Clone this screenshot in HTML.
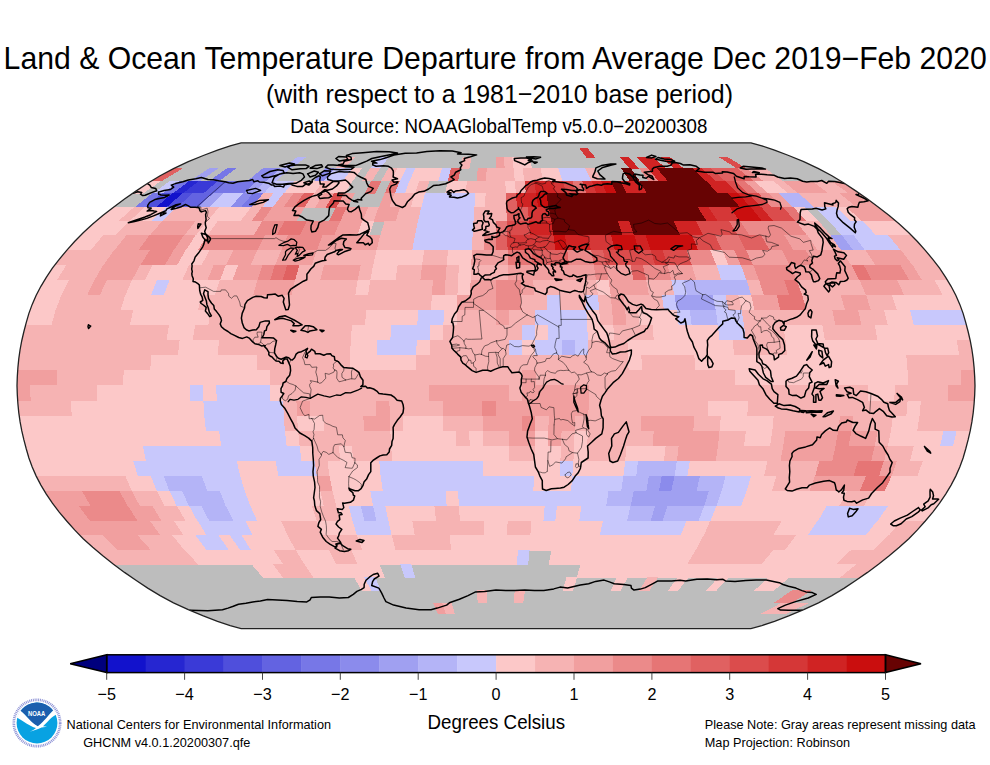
<!DOCTYPE html>
<html><head><meta charset="utf-8"><title>Land &amp; Ocean Temperature Departure from Average Dec 2019-Feb 2020</title>
<style>
html,body{margin:0;padding:0;background:#fff;overflow:hidden;}
html{width:990px;height:765px;}
body{width:990px;height:765px;position:relative;overflow:hidden;font-family:"Liberation Sans",sans-serif;color:#000;}
.t{position:absolute;white-space:nowrap;line-height:1;}
.tk{position:absolute;top:686px;width:60px;margin-left:-30px;text-align:center;font-size:16.2px;line-height:1;white-space:nowrap;transform-origin:50% 13.71px;transform:scaleY(1.043);}
</style></head><body>
<svg width="990" height="765" viewBox="0 0 990 765" style="position:absolute;left:0;top:0">
<defs><clipPath id="ol"><path d="M750.9 142.8 L761.8 145.8 L774.5 150.1 L788.7 155.5 L803.7 161.7 L818.5 168.6 L831.9 175.8 L844.3 183.3 L856.1 191.1 L867.5 199.0 L878.5 207.2 L889.2 215.6 L899.3 224.1 L908.8 232.7 L917.4 241.5 L925.3 250.4 L932.8 259.3 L939.6 268.2 L945.7 277.3 L951.1 286.3 L955.8 295.3 L959.8 304.4 L963.1 313.4 L965.7 322.4 L968.1 331.5 L970.2 340.5 L971.9 349.5 L973.2 358.6 L974.1 367.6 L974.7 376.7 L975.0 385.7 L974.7 394.7 L974.1 403.8 L973.2 412.8 L971.9 421.9 L970.2 430.9 L968.1 439.9 L965.7 449.0 L963.1 458.0 L959.8 467.0 L955.8 476.1 L951.1 485.1 L945.7 494.1 L939.6 503.2 L932.8 512.1 L925.3 521.0 L917.4 529.9 L908.8 538.7 L899.3 547.3 L889.2 555.8 L878.5 564.2 L867.5 572.4 L856.1 580.3 L844.3 588.1 L831.9 595.6 L818.5 602.8 L803.7 609.7 L788.7 615.9 L774.5 621.3 L761.8 625.6 L750.9 628.6 L241.1 628.6 L230.2 625.6 L217.5 621.3 L203.3 615.9 L188.3 609.7 L173.5 602.8 L160.1 595.6 L147.7 588.1 L135.9 580.3 L124.5 572.4 L113.5 564.2 L102.8 555.8 L92.7 547.3 L83.2 538.7 L74.6 529.9 L66.7 521.0 L59.2 512.1 L52.4 503.2 L46.3 494.1 L40.9 485.1 L36.2 476.1 L32.2 467.0 L28.9 458.0 L26.3 449.0 L23.9 439.9 L21.8 430.9 L20.1 421.9 L18.8 412.8 L17.9 403.8 L17.3 394.7 L17.0 385.7 L17.3 376.7 L17.9 367.6 L18.8 358.6 L20.1 349.5 L21.8 340.5 L23.9 331.5 L26.3 322.4 L28.9 313.4 L32.2 304.4 L36.2 295.3 L40.9 286.3 L46.3 277.3 L52.4 268.2 L59.2 259.3 L66.7 250.4 L74.6 241.5 L83.2 232.7 L92.7 224.1 L102.8 215.6 L113.5 207.2 L124.5 199.0 L135.9 191.1 L147.7 183.3 L160.1 175.8 L173.5 168.6 L188.3 161.7 L203.3 155.5 L217.5 150.1 L230.2 145.8 L241.1 142.8Z"/></clipPath></defs>
<g clip-path="url(#ol)" shape-rendering="crispEdges"><path d="M750.9 142.8 L761.8 145.8 L774.5 150.1 L788.7 155.5 L803.7 161.7 L818.5 168.6 L831.9 175.8 L844.3 183.3 L856.1 191.1 L867.5 199.0 L878.5 207.2 L889.2 215.6 L899.3 224.1 L908.8 232.7 L917.4 241.5 L925.3 250.4 L932.8 259.3 L939.6 268.2 L945.7 277.3 L951.1 286.3 L955.8 295.3 L959.8 304.4 L963.1 313.4 L965.7 322.4 L968.1 331.5 L970.2 340.5 L971.9 349.5 L973.2 358.6 L974.1 367.6 L974.7 376.7 L975.0 385.7 L974.7 394.7 L974.1 403.8 L973.2 412.8 L971.9 421.9 L970.2 430.9 L968.1 439.9 L965.7 449.0 L963.1 458.0 L959.8 467.0 L955.8 476.1 L951.1 485.1 L945.7 494.1 L939.6 503.2 L932.8 512.1 L925.3 521.0 L917.4 529.9 L908.8 538.7 L899.3 547.3 L889.2 555.8 L878.5 564.2 L867.5 572.4 L856.1 580.3 L844.3 588.1 L831.9 595.6 L818.5 602.8 L803.7 609.7 L788.7 615.9 L774.5 621.3 L761.8 625.6 L750.9 628.6 L241.1 628.6 L230.2 625.6 L217.5 621.3 L203.3 615.9 L188.3 609.7 L173.5 602.8 L160.1 595.6 L147.7 588.1 L135.9 580.3 L124.5 572.4 L113.5 564.2 L102.8 555.8 L92.7 547.3 L83.2 538.7 L74.6 529.9 L66.7 521.0 L59.2 512.1 L52.4 503.2 L46.3 494.1 L40.9 485.1 L36.2 476.1 L32.2 467.0 L28.9 458.0 L26.3 449.0 L23.9 439.9 L21.8 430.9 L20.1 421.9 L18.8 412.8 L17.9 403.8 L17.3 394.7 L17.0 385.7 L17.3 376.7 L17.9 367.6 L18.8 358.6 L20.1 349.5 L21.8 340.5 L23.9 331.5 L26.3 322.4 L28.9 313.4 L32.2 304.4 L36.2 295.3 L40.9 286.3 L46.3 277.3 L52.4 268.2 L59.2 259.3 L66.7 250.4 L74.6 241.5 L83.2 232.7 L92.7 224.1 L102.8 215.6 L113.5 207.2 L124.5 199.0 L135.9 191.1 L147.7 183.3 L160.1 175.8 L173.5 168.6 L188.3 161.7 L203.3 155.5 L217.5 150.1 L230.2 145.8 L241.1 142.8Z" fill="#bdbdbd"/>
<path d="M579.4 148.3L587.7 148.3L595.5 157.8L586.6 157.8Z" fill="#d53737"/>
<path d="M297.3 157.2L306.2 157.2L290.3 168.9L280.7 168.9Z" fill="#b4b4f7"/>
<path d="M346.9 157.2L355.8 157.2L344.0 168.9L334.5 168.9Z" fill="#f6b3b3"/>
<path d="M380.0 157.2L388.8 157.2L379.9 168.9L370.3 168.9Z" fill="#c8c8fc"/>
<path d="M462.6 157.2L471.5 157.2L469.4 168.9L459.9 168.9Z" fill="#f6b3b3"/>
<path d="M495.7 157.2L504.6 157.2L505.3 168.9L495.7 168.9Z" fill="#f19f9f"/>
<path d="M504.0 157.2L512.8 157.2L514.2 168.9L504.7 168.9Z" fill="#f6b3b3"/>
<path d="M512.2 157.2L529.4 157.2L532.1 168.9L513.6 168.9Z" fill="#fcc8c8"/>
<path d="M619.7 157.2L628.6 157.2L639.6 168.9L630.1 168.9Z" fill="#d02323"/>
<path d="M636.2 157.2L653.4 157.2L666.5 168.9L648.0 168.9Z" fill="#d02323"/>
<path d="M661.0 157.2L669.9 157.2L684.4 168.9L674.8 168.9Z" fill="#d02323"/>
<path d="M718.9 157.2L727.8 157.2L747.1 168.9L737.5 168.9Z" fill="#db4c4c"/>
<path d="M173.2 168.3L182.8 168.3L161.7 181.1L151.5 181.1Z" fill="#e06161"/>
<path d="M209.1 168.3L218.6 168.3L199.9 181.1L189.7 181.1Z" fill="#a0a0f1"/>
<path d="M227.0 168.3L236.5 168.3L219.0 181.1L208.9 181.1Z" fill="#7777e7"/>
<path d="M262.8 168.3L281.3 168.3L266.8 181.1L247.1 181.1Z" fill="#8b8bec"/>
<path d="M280.7 168.3L290.3 168.3L276.4 181.1L266.2 181.1Z" fill="#b4b4f7"/>
<path d="M325.5 168.3L335.1 168.3L324.2 181.1L314.0 181.1Z" fill="#8b8bec"/>
<path d="M334.5 168.3L353.0 168.3L343.3 181.1L323.6 181.1Z" fill="#c8c8fc"/>
<path d="M352.4 168.3L361.9 168.3L352.9 181.1L342.7 181.1Z" fill="#fcc8c8"/>
<path d="M370.3 168.3L379.9 168.3L372.0 181.1L361.8 181.1Z" fill="#f6b3b3"/>
<path d="M388.2 168.3L397.8 168.3L391.1 181.1L381.0 181.1Z" fill="#f6b3b3"/>
<path d="M397.2 168.3L406.7 168.3L400.7 181.1L390.5 181.1Z" fill="#fcc8c8"/>
<path d="M406.1 168.3L415.7 168.3L410.2 181.1L400.1 181.1Z" fill="#c8c8fc"/>
<path d="M415.1 168.3L442.6 168.3L438.9 181.1L409.6 181.1Z" fill="#fcc8c8"/>
<path d="M442.0 168.3L451.5 168.3L448.5 181.1L438.3 181.1Z" fill="#c8c8fc"/>
<path d="M450.9 168.3L460.5 168.3L458.1 181.1L447.9 181.1Z" fill="#e06161"/>
<path d="M477.8 168.3L487.3 168.3L486.7 181.1L476.6 181.1Z" fill="#f19f9f"/>
<path d="M486.7 168.3L514.2 168.3L515.4 181.1L486.1 181.1Z" fill="#f6b3b3"/>
<path d="M513.6 168.3L523.2 168.3L525.0 181.1L514.8 181.1Z" fill="#fcc8c8"/>
<path d="M522.6 168.3L541.1 168.3L544.1 181.1L524.4 181.1Z" fill="#f6b3b3"/>
<path d="M540.5 168.3L559.0 168.3L563.2 181.1L543.5 181.1Z" fill="#fcc8c8"/>
<path d="M558.4 168.3L585.9 168.3L591.9 181.1L562.6 181.1Z" fill="#c8c8fc"/>
<path d="M585.3 168.3L594.8 168.3L601.5 181.1L591.3 181.1Z" fill="#f6b3b3"/>
<path d="M621.1 168.3L630.7 168.3L639.7 181.1L629.6 181.1Z" fill="#670303"/>
<path d="M639.0 168.3L648.6 168.3L658.8 181.1L648.7 181.1Z" fill="#eb8a8a"/>
<path d="M648.0 168.3L657.5 168.3L668.4 181.1L658.2 181.1Z" fill="#d02323"/>
<path d="M656.9 168.3L693.4 168.3L706.7 181.1L667.8 181.1Z" fill="#670303"/>
<path d="M692.8 168.3L702.3 168.3L716.2 181.1L706.1 181.1Z" fill="#d02323"/>
<path d="M701.7 168.3L711.3 168.3L725.8 181.1L715.6 181.1Z" fill="#db4c4c"/>
<path d="M710.7 168.3L738.1 168.3L754.5 181.1L725.2 181.1Z" fill="#e06161"/>
<path d="M737.5 168.3L747.1 168.3L764.0 181.1L753.9 181.1Z" fill="#eb8a8a"/>
<path d="M746.5 168.3L765.0 168.3L783.1 181.1L763.4 181.1Z" fill="#f6b3b3"/>
<path d="M151.5 180.5L161.7 180.5L142.5 194.0L131.8 194.0Z" fill="#fcc8c8"/>
<path d="M170.6 180.5L180.8 180.5L162.7 194.0L152.0 194.0Z" fill="#c8c8fc"/>
<path d="M180.2 180.5L190.3 180.5L172.8 194.0L162.1 194.0Z" fill="#7777e7"/>
<path d="M189.7 180.5L199.9 180.5L182.9 194.0L172.2 194.0Z" fill="#2626d1"/>
<path d="M199.3 180.5L219.0 180.5L203.2 194.0L182.3 194.0Z" fill="#3a3ad7"/>
<path d="M218.4 180.5L228.6 180.5L213.3 194.0L202.6 194.0Z" fill="#6363e1"/>
<path d="M228.0 180.5L257.3 180.5L243.6 194.0L212.7 194.0Z" fill="#7777e7"/>
<path d="M256.7 180.5L266.8 180.5L253.7 194.0L243.0 194.0Z" fill="#a0a0f1"/>
<path d="M266.2 180.5L276.4 180.5L263.8 194.0L253.1 194.0Z" fill="#b4b4f7"/>
<path d="M275.8 180.5L295.5 180.5L284.0 194.0L263.2 194.0Z" fill="#c8c8fc"/>
<path d="M294.9 180.5L324.2 180.5L314.4 194.0L283.4 194.0Z" fill="#fcc8c8"/>
<path d="M323.6 180.5L333.8 180.5L324.5 194.0L313.8 194.0Z" fill="#f6b3b3"/>
<path d="M333.2 180.5L352.9 180.5L344.7 194.0L323.9 194.0Z" fill="#fcc8c8"/>
<path d="M371.4 180.5L381.6 180.5L375.0 194.0L364.3 194.0Z" fill="#e67575"/>
<path d="M390.5 180.5L400.7 180.5L395.2 194.0L384.5 194.0Z" fill="#e67575"/>
<path d="M400.1 180.5L410.2 180.5L405.3 194.0L394.6 194.0Z" fill="#c8c8fc"/>
<path d="M409.6 180.5L419.8 180.5L415.4 194.0L404.7 194.0Z" fill="#fcc8c8"/>
<path d="M419.2 180.5L429.4 180.5L425.5 194.0L414.8 194.0Z" fill="#f6b3b3"/>
<path d="M447.9 180.5L467.6 180.5L466.0 194.0L445.2 194.0Z" fill="#fcc8c8"/>
<path d="M467.0 180.5L505.9 180.5L506.4 194.0L465.4 194.0Z" fill="#f6b3b3"/>
<path d="M505.3 180.5L515.4 180.5L516.5 194.0L505.8 194.0Z" fill="#fcc8c8"/>
<path d="M514.8 180.5L525.0 180.5L526.6 194.0L515.9 194.0Z" fill="#f6b3b3"/>
<path d="M524.4 180.5L534.5 180.5L536.7 194.0L526.0 194.0Z" fill="#d53737"/>
<path d="M533.9 180.5L553.7 180.5L556.9 194.0L536.1 194.0Z" fill="#d02323"/>
<path d="M553.1 180.5L563.2 180.5L567.1 194.0L556.3 194.0Z" fill="#d53737"/>
<path d="M562.6 180.5L572.8 180.5L577.2 194.0L566.5 194.0Z" fill="#db4c4c"/>
<path d="M572.2 180.5L582.4 180.5L587.3 194.0L576.6 194.0Z" fill="#e67575"/>
<path d="M581.8 180.5L591.9 180.5L597.4 194.0L586.7 194.0Z" fill="#d53737"/>
<path d="M591.3 180.5L601.5 180.5L607.5 194.0L596.8 194.0Z" fill="#d02323"/>
<path d="M600.9 180.5L611.0 180.5L617.6 194.0L606.9 194.0Z" fill="#ca0e0e"/>
<path d="M610.4 180.5L620.6 180.5L627.7 194.0L617.0 194.0Z" fill="#670303"/>
<path d="M620.0 180.5L639.7 180.5L647.9 194.0L627.1 194.0Z" fill="#d02323"/>
<path d="M639.1 180.5L706.7 180.5L718.7 194.0L647.3 194.0Z" fill="#670303"/>
<path d="M706.1 180.5L725.8 180.5L738.9 194.0L718.1 194.0Z" fill="#d02323"/>
<path d="M725.2 180.5L735.3 180.5L749.0 194.0L738.3 194.0Z" fill="#db4c4c"/>
<path d="M734.7 180.5L744.9 180.5L759.1 194.0L748.4 194.0Z" fill="#e67575"/>
<path d="M744.3 180.5L754.5 180.5L769.2 194.0L758.5 194.0Z" fill="#f19f9f"/>
<path d="M753.9 180.5L773.6 180.5L789.4 194.0L768.6 194.0Z" fill="#fcc8c8"/>
<path d="M773.0 180.5L783.1 180.5L799.5 194.0L788.8 194.0Z" fill="#f6b3b3"/>
<path d="M782.5 180.5L811.8 180.5L829.9 194.0L798.9 194.0Z" fill="#f19f9f"/>
<path d="M811.2 180.5L830.9 180.5L850.1 194.0L829.3 194.0Z" fill="#f6b3b3"/>
<path d="M830.3 180.5L840.5 180.5L860.2 194.0L849.5 194.0Z" fill="#f19f9f"/>
<path d="M152.0 193.4L162.7 193.4L145.6 207.5L134.4 207.5Z" fill="#7777e7"/>
<path d="M162.1 193.4L172.8 193.4L156.3 207.5L145.0 207.5Z" fill="#4f4fdc"/>
<path d="M172.2 193.4L182.9 193.4L166.9 207.5L155.7 207.5Z" fill="#1212cc"/>
<path d="M182.3 193.4L193.1 193.4L177.5 207.5L166.3 207.5Z" fill="#4f4fdc"/>
<path d="M192.5 193.4L213.3 193.4L198.8 207.5L176.9 207.5Z" fill="#6363e1"/>
<path d="M212.7 193.4L223.4 193.4L209.4 207.5L198.2 207.5Z" fill="#a0a0f1"/>
<path d="M222.8 193.4L243.6 193.4L230.7 207.5L208.8 207.5Z" fill="#c8c8fc"/>
<path d="M243.0 193.4L253.7 193.4L241.3 207.5L230.1 207.5Z" fill="#8b8bec"/>
<path d="M253.1 193.4L263.8 193.4L251.9 207.5L240.7 207.5Z" fill="#7777e7"/>
<path d="M263.2 193.4L273.9 193.4L262.5 207.5L251.3 207.5Z" fill="#f6b3b3"/>
<path d="M273.3 193.4L284.0 193.4L273.2 207.5L261.9 207.5Z" fill="#c8c8fc"/>
<path d="M283.4 193.4L294.1 193.4L283.8 207.5L272.6 207.5Z" fill="#f19f9f"/>
<path d="M293.5 193.4L304.2 193.4L294.4 207.5L283.2 207.5Z" fill="#eb8a8a"/>
<path d="M303.6 193.4L314.4 193.4L305.0 207.5L293.8 207.5Z" fill="#e06161"/>
<path d="M313.8 193.4L324.5 193.4L315.7 207.5L304.4 207.5Z" fill="#f6b3b3"/>
<path d="M323.9 193.4L334.6 193.4L326.3 207.5L315.1 207.5Z" fill="#f19f9f"/>
<path d="M334.0 193.4L344.7 193.4L336.9 207.5L325.7 207.5Z" fill="#db4c4c"/>
<path d="M344.1 193.4L354.8 193.4L347.5 207.5L336.3 207.5Z" fill="#f19f9f"/>
<path d="M384.5 193.4L395.2 193.4L390.0 207.5L378.8 207.5Z" fill="#f19f9f"/>
<path d="M394.6 193.4L415.4 193.4L411.3 207.5L389.4 207.5Z" fill="#f6b3b3"/>
<path d="M414.8 193.4L425.5 193.4L421.9 207.5L410.7 207.5Z" fill="#fcc8c8"/>
<path d="M424.9 193.4L476.1 193.4L475.0 207.5L421.3 207.5Z" fill="#c8c8fc"/>
<path d="M475.5 193.4L486.2 193.4L485.7 207.5L474.4 207.5Z" fill="#fcc8c8"/>
<path d="M485.6 193.4L506.4 193.4L506.9 207.5L485.1 207.5Z" fill="#f6b3b3"/>
<path d="M505.8 193.4L516.5 193.4L517.6 207.5L506.3 207.5Z" fill="#e06161"/>
<path d="M515.9 193.4L536.7 193.4L538.8 207.5L517.0 207.5Z" fill="#d02323"/>
<path d="M536.1 193.4L546.8 193.4L549.4 207.5L538.2 207.5Z" fill="#ca0e0e"/>
<path d="M546.2 193.4L728.8 193.4L740.7 207.5L548.8 207.5Z" fill="#670303"/>
<path d="M728.2 193.4L738.9 193.4L751.3 207.5L740.1 207.5Z" fill="#ca0e0e"/>
<path d="M738.3 193.4L749.0 193.4L761.9 207.5L750.7 207.5Z" fill="#d02323"/>
<path d="M748.4 193.4L759.1 193.4L772.6 207.5L761.3 207.5Z" fill="#db4c4c"/>
<path d="M758.5 193.4L769.2 193.4L783.2 207.5L772.0 207.5Z" fill="#eb8a8a"/>
<path d="M768.6 193.4L779.3 193.4L793.8 207.5L782.6 207.5Z" fill="#f19f9f"/>
<path d="M778.7 193.4L799.5 193.4L815.1 207.5L793.2 207.5Z" fill="#b4b4f7"/>
<path d="M798.9 193.4L840.0 193.4L857.6 207.5L814.5 207.5Z" fill="#f6b3b3"/>
<path d="M839.4 193.4L860.2 193.4L878.8 207.5L857.0 207.5Z" fill="#f19f9f"/>
<path d="M113.2 206.9L135.0 206.9L118.6 221.5L95.7 221.5Z" fill="#fcc8c8"/>
<path d="M134.4 206.9L145.6 206.9L129.7 221.5L118.0 221.5Z" fill="#f6b3b3"/>
<path d="M145.0 206.9L166.9 206.9L151.9 221.5L129.1 221.5Z" fill="#fcc8c8"/>
<path d="M166.3 206.9L177.5 206.9L163.0 221.5L151.3 221.5Z" fill="#c8c8fc"/>
<path d="M176.9 206.9L220.0 206.9L207.4 221.5L162.4 221.5Z" fill="#f6b3b3"/>
<path d="M219.4 206.9L251.9 206.9L240.8 221.5L206.8 221.5Z" fill="#fcc8c8"/>
<path d="M251.3 206.9L262.5 206.9L251.9 221.5L240.2 221.5Z" fill="#f6b3b3"/>
<path d="M261.9 206.9L273.2 206.9L263.0 221.5L251.3 221.5Z" fill="#eb8a8a"/>
<path d="M272.6 206.9L305.0 206.9L296.3 221.5L262.4 221.5Z" fill="#f19f9f"/>
<path d="M336.3 206.9L347.5 206.9L340.8 221.5L329.0 221.5Z" fill="#e67575"/>
<path d="M346.9 206.9L368.8 206.9L363.0 221.5L340.2 221.5Z" fill="#f19f9f"/>
<path d="M368.2 206.9L379.4 206.9L374.1 221.5L362.4 221.5Z" fill="#f6b3b3"/>
<path d="M378.8 206.9L400.7 206.9L396.3 221.5L373.5 221.5Z" fill="#f19f9f"/>
<path d="M400.1 206.9L421.9 206.9L418.5 221.5L395.7 221.5Z" fill="#f6b3b3"/>
<path d="M421.3 206.9L475.0 206.9L474.1 221.5L417.9 221.5Z" fill="#c8c8fc"/>
<path d="M474.4 206.9L506.9 206.9L507.4 221.5L473.5 221.5Z" fill="#f6b3b3"/>
<path d="M506.3 206.9L528.2 206.9L529.6 221.5L506.8 221.5Z" fill="#e06161"/>
<path d="M527.6 206.9L549.4 206.9L551.9 221.5L529.0 221.5Z" fill="#d53737"/>
<path d="M548.8 206.9L698.2 206.9L707.4 221.5L551.3 221.5Z" fill="#670303"/>
<path d="M697.6 206.9L708.8 206.9L718.5 221.5L706.8 221.5Z" fill="#d02323"/>
<path d="M708.2 206.9L730.1 206.9L740.7 221.5L717.9 221.5Z" fill="#d53737"/>
<path d="M729.5 206.9L751.3 206.9L762.9 221.5L740.1 221.5Z" fill="#ca0e0e"/>
<path d="M750.7 206.9L761.9 206.9L774.1 221.5L762.3 221.5Z" fill="#d02323"/>
<path d="M761.3 206.9L783.2 206.9L796.3 221.5L773.5 221.5Z" fill="#db4c4c"/>
<path d="M782.6 206.9L793.8 206.9L807.4 221.5L795.7 221.5Z" fill="#e67575"/>
<path d="M793.2 206.9L804.4 206.9L818.5 221.5L806.8 221.5Z" fill="#fcc8c8"/>
<path d="M814.5 206.9L836.3 206.9L851.8 221.5L829.0 221.5Z" fill="#c8c8fc"/>
<path d="M835.7 206.9L847.0 206.9L862.9 221.5L851.2 221.5Z" fill="#fcc8c8"/>
<path d="M846.4 206.9L878.8 206.9L896.3 221.5L862.3 221.5Z" fill="#f19f9f"/>
<path d="M95.7 220.9L129.7 220.9L115.2 236.0L80.0 236.0Z" fill="#fcc8c8"/>
<path d="M129.1 220.9L163.0 220.9L149.9 236.0L114.6 236.0Z" fill="#f6b3b3"/>
<path d="M162.4 220.9L196.3 220.9L184.5 236.0L149.3 236.0Z" fill="#f19f9f"/>
<path d="M195.7 220.9L207.4 220.9L196.1 236.0L183.9 236.0Z" fill="#f6b3b3"/>
<path d="M206.8 220.9L218.5 220.9L207.6 236.0L195.5 236.0Z" fill="#fcc8c8"/>
<path d="M217.9 220.9L263.0 220.9L253.8 236.0L207.0 236.0Z" fill="#f6b3b3"/>
<path d="M262.4 220.9L285.2 220.9L276.9 236.0L253.2 236.0Z" fill="#eb8a8a"/>
<path d="M284.6 220.9L307.4 220.9L300.0 236.0L276.3 236.0Z" fill="#e67575"/>
<path d="M306.8 220.9L340.8 220.9L334.6 236.0L299.4 236.0Z" fill="#eb8a8a"/>
<path d="M340.2 220.9L363.0 220.9L357.7 236.0L334.0 236.0Z" fill="#f19f9f"/>
<path d="M362.4 220.9L374.1 220.9L369.3 236.0L357.1 236.0Z" fill="#fcc8c8"/>
<path d="M384.6 220.9L418.5 220.9L415.5 236.0L380.2 236.0Z" fill="#f6b3b3"/>
<path d="M417.9 220.9L474.1 220.9L473.2 236.0L414.9 236.0Z" fill="#c8c8fc"/>
<path d="M473.5 220.9L496.3 220.9L496.3 236.0L472.6 236.0Z" fill="#f6b3b3"/>
<path d="M495.7 220.9L507.4 220.9L507.8 236.0L495.7 236.0Z" fill="#e67575"/>
<path d="M506.8 220.9L529.6 220.9L530.9 236.0L507.2 236.0Z" fill="#db4c4c"/>
<path d="M529.0 220.9L551.9 220.9L554.0 236.0L530.3 236.0Z" fill="#d02323"/>
<path d="M551.3 220.9L618.5 220.9L623.3 236.0L553.4 236.0Z" fill="#670303"/>
<path d="M617.9 220.9L629.6 220.9L634.9 236.0L622.7 236.0Z" fill="#d02323"/>
<path d="M629.0 220.9L674.1 220.9L681.1 236.0L634.3 236.0Z" fill="#670303"/>
<path d="M673.5 220.9L696.3 220.9L704.2 236.0L680.5 236.0Z" fill="#d02323"/>
<path d="M695.7 220.9L729.6 220.9L738.8 236.0L703.6 236.0Z" fill="#db4c4c"/>
<path d="M729.0 220.9L740.7 220.9L750.4 236.0L738.2 236.0Z" fill="#e67575"/>
<path d="M740.1 220.9L796.3 220.9L808.1 236.0L749.8 236.0Z" fill="#eb8a8a"/>
<path d="M795.7 220.9L818.5 220.9L831.2 236.0L807.5 236.0Z" fill="#f6b3b3"/>
<path d="M829.0 220.9L862.9 220.9L877.4 236.0L842.1 236.0Z" fill="#c8c8fc"/>
<path d="M862.3 220.9L896.3 220.9L912.0 236.0L876.8 236.0Z" fill="#fcc8c8"/>
<path d="M80.0 235.4L103.7 235.4L90.9 250.7L66.4 250.7Z" fill="#fcc8c8"/>
<path d="M103.1 235.4L126.8 235.4L114.7 250.7L90.3 250.7Z" fill="#f6b3b3"/>
<path d="M126.2 235.4L149.9 235.4L138.6 250.7L114.1 250.7Z" fill="#f19f9f"/>
<path d="M149.3 235.4L184.5 235.4L174.3 250.7L138.0 250.7Z" fill="#eb8a8a"/>
<path d="M183.9 235.4L196.1 235.4L186.3 250.7L173.7 250.7Z" fill="#f19f9f"/>
<path d="M195.5 235.4L207.6 235.4L198.2 250.7L185.7 250.7Z" fill="#fcc8c8"/>
<path d="M207.0 235.4L265.3 235.4L257.8 250.7L197.6 250.7Z" fill="#eb8a8a"/>
<path d="M264.7 235.4L288.4 235.4L281.7 250.7L257.2 250.7Z" fill="#f19f9f"/>
<path d="M287.8 235.4L323.1 235.4L317.4 250.7L281.1 250.7Z" fill="#eb8a8a"/>
<path d="M322.5 235.4L380.8 235.4L377.1 250.7L316.8 250.7Z" fill="#f19f9f"/>
<path d="M380.2 235.4L415.5 235.4L412.8 250.7L376.5 250.7Z" fill="#f6b3b3"/>
<path d="M414.9 235.4L473.2 235.4L472.5 250.7L412.2 250.7Z" fill="#c8c8fc"/>
<path d="M472.6 235.4L484.8 235.4L484.4 250.7L471.9 250.7Z" fill="#f6b3b3"/>
<path d="M484.2 235.4L496.3 235.4L496.3 250.7L483.8 250.7Z" fill="#eb8a8a"/>
<path d="M495.7 235.4L507.8 235.4L508.2 250.7L495.7 250.7Z" fill="#e06161"/>
<path d="M507.2 235.4L554.0 235.4L555.9 250.7L507.6 250.7Z" fill="#d53737"/>
<path d="M553.4 235.4L565.6 235.4L567.8 250.7L555.3 250.7Z" fill="#ca0e0e"/>
<path d="M565.0 235.4L588.7 235.4L591.7 250.7L567.2 250.7Z" fill="#d02323"/>
<path d="M588.1 235.4L611.8 235.4L615.5 250.7L591.1 250.7Z" fill="#d53737"/>
<path d="M611.2 235.4L634.9 235.4L639.4 250.7L614.9 250.7Z" fill="#ca0e0e"/>
<path d="M634.3 235.4L646.4 235.4L651.3 250.7L638.8 250.7Z" fill="#d02323"/>
<path d="M645.8 235.4L692.6 235.4L699.0 250.7L650.7 250.7Z" fill="#ca0e0e"/>
<path d="M692.0 235.4L715.7 235.4L722.9 250.7L698.4 250.7Z" fill="#db4c4c"/>
<path d="M715.1 235.4L738.8 235.4L746.7 250.7L722.3 250.7Z" fill="#e67575"/>
<path d="M738.2 235.4L761.9 235.4L770.6 250.7L746.1 250.7Z" fill="#e06161"/>
<path d="M761.3 235.4L785.0 235.4L794.4 250.7L770.0 250.7Z" fill="#eb8a8a"/>
<path d="M784.4 235.4L808.1 235.4L818.3 250.7L793.8 250.7Z" fill="#f19f9f"/>
<path d="M807.5 235.4L831.2 235.4L842.1 250.7L817.7 250.7Z" fill="#f6b3b3"/>
<path d="M830.6 235.4L842.7 235.4L854.0 250.7L841.5 250.7Z" fill="#a0a0f1"/>
<path d="M842.1 235.4L854.3 235.4L866.0 250.7L853.4 250.7Z" fill="#b4b4f7"/>
<path d="M853.7 235.4L888.9 235.4L901.7 250.7L865.4 250.7Z" fill="#c8c8fc"/>
<path d="M888.3 235.4L912.0 235.4L925.6 250.7L901.1 250.7Z" fill="#f6b3b3"/>
<path d="M66.4 250.1L114.7 250.1L103.9 265.5L54.3 265.5Z" fill="#f6b3b3"/>
<path d="M114.1 250.1L150.5 250.1L140.7 265.5L103.3 265.5Z" fill="#f19f9f"/>
<path d="M149.9 250.1L174.3 250.1L165.2 265.5L140.1 265.5Z" fill="#eb8a8a"/>
<path d="M173.7 250.1L186.3 250.1L177.5 265.5L164.6 265.5Z" fill="#f19f9f"/>
<path d="M185.7 250.1L210.1 250.1L202.0 265.5L176.9 265.5Z" fill="#fcc8c8"/>
<path d="M209.5 250.1L234.0 250.1L226.5 265.5L201.4 265.5Z" fill="#f6b3b3"/>
<path d="M233.4 250.1L257.8 250.1L251.1 265.5L225.9 265.5Z" fill="#f19f9f"/>
<path d="M257.2 250.1L281.7 250.1L275.6 265.5L250.5 265.5Z" fill="#f6b3b3"/>
<path d="M281.1 250.1L317.4 250.1L312.4 265.5L275.0 265.5Z" fill="#f19f9f"/>
<path d="M316.8 250.1L377.1 250.1L373.7 265.5L311.8 265.5Z" fill="#f6b3b3"/>
<path d="M376.5 250.1L424.8 250.1L422.7 265.5L373.1 265.5Z" fill="#fcc8c8"/>
<path d="M424.2 250.1L448.6 250.1L447.3 265.5L422.1 265.5Z" fill="#f6b3b3"/>
<path d="M448.0 250.1L472.5 250.1L471.8 265.5L446.7 265.5Z" fill="#fcc8c8"/>
<path d="M471.9 250.1L508.2 250.1L508.6 265.5L471.2 265.5Z" fill="#f19f9f"/>
<path d="M507.6 250.1L532.1 250.1L533.1 265.5L508.0 265.5Z" fill="#e67575"/>
<path d="M531.5 250.1L567.8 250.1L569.9 265.5L532.5 265.5Z" fill="#e06161"/>
<path d="M567.2 250.1L591.7 250.1L594.4 265.5L569.3 265.5Z" fill="#eb8a8a"/>
<path d="M591.1 250.1L603.6 250.1L606.7 265.5L593.8 265.5Z" fill="#e06161"/>
<path d="M603.0 250.1L651.3 250.1L655.7 265.5L606.1 265.5Z" fill="#db4c4c"/>
<path d="M650.7 250.1L663.2 250.1L668.0 265.5L655.1 265.5Z" fill="#d53737"/>
<path d="M662.6 250.1L687.1 250.1L692.5 265.5L667.4 265.5Z" fill="#db4c4c"/>
<path d="M686.5 250.1L710.9 250.1L717.0 265.5L691.9 265.5Z" fill="#eb8a8a"/>
<path d="M710.3 250.1L722.9 250.1L729.3 265.5L716.4 265.5Z" fill="#fcc8c8"/>
<path d="M722.3 250.1L734.8 250.1L741.5 265.5L728.7 265.5Z" fill="#f19f9f"/>
<path d="M734.2 250.1L746.7 250.1L753.8 265.5L740.9 265.5Z" fill="#e67575"/>
<path d="M746.1 250.1L782.5 250.1L790.6 265.5L753.2 265.5Z" fill="#f19f9f"/>
<path d="M781.9 250.1L806.3 250.1L815.1 265.5L790.0 265.5Z" fill="#eb8a8a"/>
<path d="M805.7 250.1L842.1 250.1L851.9 265.5L814.5 265.5Z" fill="#f19f9f"/>
<path d="M841.5 250.1L866.0 250.1L876.4 265.5L851.3 265.5Z" fill="#f6b3b3"/>
<path d="M865.4 250.1L901.7 250.1L913.2 265.5L875.8 265.5Z" fill="#f19f9f"/>
<path d="M901.1 250.1L925.6 250.1L937.7 265.5L912.6 265.5Z" fill="#f6b3b3"/>
<path d="M54.3 264.9L67.1 264.9L57.3 280.6L44.1 280.6Z" fill="#fcc8c8"/>
<path d="M66.5 264.9L103.9 264.9L94.9 280.6L56.7 280.6Z" fill="#f6b3b3"/>
<path d="M103.3 264.9L140.7 264.9L132.5 280.6L94.3 280.6Z" fill="#f19f9f"/>
<path d="M140.1 264.9L153.0 264.9L145.1 280.6L131.9 280.6Z" fill="#f6b3b3"/>
<path d="M152.4 264.9L189.7 264.9L182.7 280.6L144.5 280.6Z" fill="#fcc8c8"/>
<path d="M189.1 264.9L214.3 264.9L207.8 280.6L182.1 280.6Z" fill="#f6b3b3"/>
<path d="M213.7 264.9L226.5 264.9L220.4 280.6L207.2 280.6Z" fill="#f19f9f"/>
<path d="M225.9 264.9L238.8 264.9L232.9 280.6L219.8 280.6Z" fill="#fcc8c8"/>
<path d="M238.2 264.9L263.3 264.9L258.0 280.6L232.3 280.6Z" fill="#f19f9f"/>
<path d="M262.7 264.9L275.6 264.9L270.5 280.6L257.4 280.6Z" fill="#eb8a8a"/>
<path d="M275.0 264.9L287.8 264.9L283.1 280.6L269.9 280.6Z" fill="#e67575"/>
<path d="M287.2 264.9L300.1 264.9L295.6 280.6L282.5 280.6Z" fill="#e06161"/>
<path d="M299.5 264.9L324.6 264.9L320.7 280.6L295.0 280.6Z" fill="#f6b3b3"/>
<path d="M324.0 264.9L361.4 264.9L358.3 280.6L320.1 280.6Z" fill="#f19f9f"/>
<path d="M360.8 264.9L373.7 264.9L370.9 280.6L357.7 280.6Z" fill="#f6b3b3"/>
<path d="M373.1 264.9L398.2 264.9L396.0 280.6L370.3 280.6Z" fill="#fcc8c8"/>
<path d="M397.6 264.9L422.7 264.9L421.0 280.6L395.4 280.6Z" fill="#f6b3b3"/>
<path d="M422.1 264.9L447.3 264.9L446.1 280.6L420.4 280.6Z" fill="#f19f9f"/>
<path d="M446.7 264.9L459.5 264.9L458.7 280.6L445.5 280.6Z" fill="#f6b3b3"/>
<path d="M458.9 264.9L471.8 264.9L471.2 280.6L458.1 280.6Z" fill="#fcc8c8"/>
<path d="M471.2 264.9L508.6 264.9L508.8 280.6L470.6 280.6Z" fill="#f6b3b3"/>
<path d="M508.0 264.9L594.4 264.9L596.6 280.6L508.2 280.6Z" fill="#f19f9f"/>
<path d="M593.8 264.9L606.7 264.9L609.2 280.6L596.0 280.6Z" fill="#eb8a8a"/>
<path d="M606.1 264.9L631.2 264.9L634.3 280.6L608.6 280.6Z" fill="#f19f9f"/>
<path d="M630.6 264.9L643.4 264.9L646.8 280.6L633.7 280.6Z" fill="#e06161"/>
<path d="M642.8 264.9L668.0 264.9L671.9 280.6L646.2 280.6Z" fill="#eb8a8a"/>
<path d="M667.4 264.9L692.5 264.9L697.0 280.6L671.3 280.6Z" fill="#f19f9f"/>
<path d="M691.9 264.9L717.0 264.9L722.1 280.6L696.4 280.6Z" fill="#f6b3b3"/>
<path d="M716.4 264.9L741.5 264.9L747.2 280.6L721.5 280.6Z" fill="#c8c8fc"/>
<path d="M740.9 264.9L753.8 264.9L759.7 280.6L746.6 280.6Z" fill="#f19f9f"/>
<path d="M753.2 264.9L790.6 264.9L797.3 280.6L759.1 280.6Z" fill="#eb8a8a"/>
<path d="M790.0 264.9L851.9 264.9L860.1 280.6L796.7 280.6Z" fill="#f19f9f"/>
<path d="M851.3 264.9L864.2 264.9L872.6 280.6L859.5 280.6Z" fill="#e67575"/>
<path d="M863.6 264.9L901.0 264.9L910.2 280.6L872.0 280.6Z" fill="#eb8a8a"/>
<path d="M900.4 264.9L913.2 264.9L922.8 280.6L909.6 280.6Z" fill="#f19f9f"/>
<path d="M912.6 264.9L937.7 264.9L947.9 280.6L922.2 280.6Z" fill="#f6b3b3"/>
<path d="M44.1 280.0L69.8 280.0L62.0 295.6L35.9 295.6Z" fill="#fcc8c8"/>
<path d="M69.2 280.0L94.9 280.0L87.6 295.6L61.4 295.6Z" fill="#f6b3b3"/>
<path d="M94.3 280.0L107.5 280.0L100.3 295.6L87.0 295.6Z" fill="#f19f9f"/>
<path d="M106.9 280.0L132.5 280.0L125.9 295.6L99.7 295.6Z" fill="#f6b3b3"/>
<path d="M131.9 280.0L157.6 280.0L151.4 295.6L125.3 295.6Z" fill="#fcc8c8"/>
<path d="M157.0 280.0L170.2 280.0L164.2 295.6L150.8 295.6Z" fill="#c8c8fc"/>
<path d="M169.6 280.0L220.4 280.0L215.3 295.6L163.6 295.6Z" fill="#fcc8c8"/>
<path d="M219.8 280.0L258.0 280.0L253.6 295.6L214.7 295.6Z" fill="#f6b3b3"/>
<path d="M257.4 280.0L295.6 280.0L291.9 295.6L253.0 295.6Z" fill="#f19f9f"/>
<path d="M295.0 280.0L358.3 280.0L355.8 295.6L291.3 295.6Z" fill="#f6b3b3"/>
<path d="M357.7 280.0L370.9 280.0L368.6 295.6L355.2 295.6Z" fill="#fcc8c8"/>
<path d="M370.3 280.0L433.6 280.0L432.4 295.6L368.0 295.6Z" fill="#f6b3b3"/>
<path d="M433.0 280.0L446.1 280.0L445.2 295.6L431.8 295.6Z" fill="#f19f9f"/>
<path d="M445.5 280.0L458.7 280.0L458.0 295.6L444.6 295.6Z" fill="#f6b3b3"/>
<path d="M458.1 280.0L471.2 280.0L470.8 295.6L457.4 295.6Z" fill="#fcc8c8"/>
<path d="M470.6 280.0L496.3 280.0L496.3 295.6L470.2 295.6Z" fill="#f19f9f"/>
<path d="M495.7 280.0L521.4 280.0L521.8 295.6L495.7 295.6Z" fill="#eb8a8a"/>
<path d="M520.8 280.0L533.9 280.0L534.6 295.6L521.2 295.6Z" fill="#f19f9f"/>
<path d="M533.3 280.0L596.6 280.0L598.5 295.6L534.0 295.6Z" fill="#f6b3b3"/>
<path d="M596.0 280.0L609.2 280.0L611.3 295.6L597.9 295.6Z" fill="#fcc8c8"/>
<path d="M608.6 280.0L646.8 280.0L649.6 295.6L610.7 295.6Z" fill="#f19f9f"/>
<path d="M646.2 280.0L671.9 280.0L675.1 295.6L649.0 295.6Z" fill="#f6b3b3"/>
<path d="M671.3 280.0L684.4 280.0L687.9 295.6L674.5 295.6Z" fill="#c8c8fc"/>
<path d="M683.8 280.0L747.2 280.0L751.8 295.6L687.3 295.6Z" fill="#b4b4f7"/>
<path d="M746.6 280.0L759.7 280.0L764.5 295.6L751.2 295.6Z" fill="#f6b3b3"/>
<path d="M759.1 280.0L784.8 280.0L790.1 295.6L763.9 295.6Z" fill="#eb8a8a"/>
<path d="M784.2 280.0L797.3 280.0L802.9 295.6L789.5 295.6Z" fill="#e67575"/>
<path d="M796.7 280.0L860.1 280.0L866.7 295.6L802.3 295.6Z" fill="#f6b3b3"/>
<path d="M859.5 280.0L897.7 280.0L905.0 295.6L866.1 295.6Z" fill="#f19f9f"/>
<path d="M897.1 280.0L935.3 280.0L943.4 295.6L904.4 295.6Z" fill="#f6b3b3"/>
<path d="M934.7 280.0L947.9 280.0L956.1 295.6L942.8 295.6Z" fill="#fcc8c8"/>
<path d="M35.9 295.0L62.0 295.0L56.1 310.7L29.6 310.7Z" fill="#fcc8c8"/>
<path d="M61.4 295.0L125.9 295.0L120.9 310.7L55.5 310.7Z" fill="#f6b3b3"/>
<path d="M125.3 295.0L202.5 295.0L198.5 310.7L120.3 310.7Z" fill="#fcc8c8"/>
<path d="M201.9 295.0L432.4 295.0L431.6 310.7L197.9 310.7Z" fill="#f6b3b3"/>
<path d="M431.8 295.0L458.0 295.0L457.5 310.7L431.0 310.7Z" fill="#fcc8c8"/>
<path d="M457.4 295.0L496.3 295.0L496.3 310.7L456.9 310.7Z" fill="#f19f9f"/>
<path d="M495.7 295.0L521.8 295.0L522.2 310.7L495.7 310.7Z" fill="#eb8a8a"/>
<path d="M521.2 295.0L547.4 295.0L548.1 310.7L521.6 310.7Z" fill="#f6b3b3"/>
<path d="M546.8 295.0L560.2 295.0L561.0 310.7L547.5 310.7Z" fill="#c8c8fc"/>
<path d="M559.6 295.0L585.7 295.0L586.9 310.7L560.4 310.7Z" fill="#f6b3b3"/>
<path d="M585.1 295.0L598.5 295.0L599.9 310.7L586.3 310.7Z" fill="#c8c8fc"/>
<path d="M597.9 295.0L611.3 295.0L612.8 310.7L599.3 310.7Z" fill="#f6b3b3"/>
<path d="M610.7 295.0L624.0 295.0L625.8 310.7L612.2 310.7Z" fill="#f19f9f"/>
<path d="M623.4 295.0L662.4 295.0L664.6 310.7L625.2 310.7Z" fill="#f6b3b3"/>
<path d="M661.8 295.0L675.1 295.0L677.5 310.7L664.0 310.7Z" fill="#c8c8fc"/>
<path d="M674.5 295.0L713.4 295.0L716.4 310.7L676.9 310.7Z" fill="#a0a0f1"/>
<path d="M712.8 295.0L726.2 295.0L729.3 310.7L715.8 310.7Z" fill="#c8c8fc"/>
<path d="M725.6 295.0L739.0 295.0L742.3 310.7L728.7 310.7Z" fill="#f6b3b3"/>
<path d="M738.4 295.0L751.8 295.0L755.2 310.7L741.7 310.7Z" fill="#fcc8c8"/>
<path d="M751.2 295.0L777.3 295.0L781.1 310.7L754.6 310.7Z" fill="#f19f9f"/>
<path d="M776.7 295.0L802.9 295.0L807.0 310.7L780.5 310.7Z" fill="#e67575"/>
<path d="M802.3 295.0L841.2 295.0L845.9 310.7L806.4 310.7Z" fill="#f6b3b3"/>
<path d="M840.6 295.0L866.7 295.0L871.7 310.7L845.3 310.7Z" fill="#f19f9f"/>
<path d="M866.1 295.0L892.3 295.0L897.6 310.7L871.1 310.7Z" fill="#f6b3b3"/>
<path d="M891.7 295.0L956.1 295.0L962.4 310.7L897.0 310.7Z" fill="#fcc8c8"/>
<path d="M29.6 310.1L56.1 310.1L52.0 325.7L25.2 325.7Z" fill="#fcc8c8"/>
<path d="M55.5 310.1L133.8 310.1L130.4 325.7L51.4 325.7Z" fill="#f6b3b3"/>
<path d="M133.2 310.1L211.5 310.1L208.8 325.7L129.8 325.7Z" fill="#fcc8c8"/>
<path d="M210.9 310.1L366.8 310.1L365.6 325.7L208.2 325.7Z" fill="#f6b3b3"/>
<path d="M366.2 310.1L418.6 310.1L417.9 325.7L365.0 325.7Z" fill="#fcc8c8"/>
<path d="M418.0 310.1L444.5 310.1L444.0 325.7L417.3 325.7Z" fill="#c8c8fc"/>
<path d="M443.9 310.1L457.5 310.1L457.1 325.7L443.4 325.7Z" fill="#fcc8c8"/>
<path d="M456.9 310.1L496.3 310.1L496.3 325.7L456.5 325.7Z" fill="#f6b3b3"/>
<path d="M495.7 310.1L509.2 310.1L509.4 325.7L495.7 325.7Z" fill="#f19f9f"/>
<path d="M508.6 310.1L535.1 310.1L535.5 325.7L508.8 325.7Z" fill="#f6b3b3"/>
<path d="M534.5 310.1L586.9 310.1L587.8 325.7L534.9 325.7Z" fill="#c8c8fc"/>
<path d="M586.3 310.1L599.9 310.1L600.8 325.7L587.2 325.7Z" fill="#fcc8c8"/>
<path d="M599.3 310.1L612.8 310.1L613.9 325.7L600.2 325.7Z" fill="#f6b3b3"/>
<path d="M612.2 310.1L625.8 310.1L627.0 325.7L613.3 325.7Z" fill="#f19f9f"/>
<path d="M625.2 310.1L638.7 310.1L640.1 325.7L626.4 325.7Z" fill="#f6b3b3"/>
<path d="M638.1 310.1L677.5 310.1L679.3 325.7L639.5 325.7Z" fill="#fcc8c8"/>
<path d="M676.9 310.1L690.5 310.1L692.3 325.7L678.7 325.7Z" fill="#c8c8fc"/>
<path d="M689.9 310.1L716.4 310.1L718.5 325.7L691.7 325.7Z" fill="#b4b4f7"/>
<path d="M715.8 310.1L742.3 310.1L744.6 325.7L717.9 325.7Z" fill="#c8c8fc"/>
<path d="M741.7 310.1L832.9 310.1L836.1 325.7L744.0 325.7Z" fill="#f6b3b3"/>
<path d="M832.3 310.1L858.8 310.1L862.2 325.7L835.5 325.7Z" fill="#f19f9f"/>
<path d="M858.2 310.1L884.7 310.1L888.4 325.7L861.6 325.7Z" fill="#f6b3b3"/>
<path d="M884.1 310.1L910.6 310.1L914.5 325.7L887.8 325.7Z" fill="#fcc8c8"/>
<path d="M910.0 310.1L962.4 310.1L966.8 325.7L913.9 325.7Z" fill="#c8c8fc"/>
<path d="M25.2 325.1L169.6 325.1L167.0 340.8L21.5 340.8Z" fill="#f6b3b3"/>
<path d="M169.0 325.1L195.7 325.1L193.3 340.8L166.4 340.8Z" fill="#fcc8c8"/>
<path d="M195.1 325.1L352.5 325.1L351.4 340.8L192.7 340.8Z" fill="#f6b3b3"/>
<path d="M351.9 325.1L391.8 325.1L390.9 340.8L350.8 340.8Z" fill="#fcc8c8"/>
<path d="M391.2 325.1L431.0 325.1L430.4 340.8L390.3 340.8Z" fill="#c8c8fc"/>
<path d="M430.4 325.1L444.0 325.1L443.6 340.8L429.8 340.8Z" fill="#fcc8c8"/>
<path d="M443.4 325.1L522.4 325.1L522.6 340.8L443.0 340.8Z" fill="#f6b3b3"/>
<path d="M521.8 325.1L535.5 325.1L535.8 340.8L522.0 340.8Z" fill="#c8c8fc"/>
<path d="M534.9 325.1L548.6 325.1L549.0 340.8L535.2 340.8Z" fill="#fcc8c8"/>
<path d="M548.0 325.1L587.8 325.1L588.5 340.8L548.4 340.8Z" fill="#c8c8fc"/>
<path d="M587.2 325.1L613.9 325.1L614.9 340.8L587.9 340.8Z" fill="#fcc8c8"/>
<path d="M613.3 325.1L653.1 325.1L654.4 340.8L614.3 340.8Z" fill="#f6b3b3"/>
<path d="M652.5 325.1L718.5 325.1L720.2 340.8L653.8 340.8Z" fill="#fcc8c8"/>
<path d="M717.9 325.1L744.6 325.1L746.6 340.8L719.6 340.8Z" fill="#c8c8fc"/>
<path d="M744.0 325.1L783.8 325.1L786.1 340.8L746.0 340.8Z" fill="#f6b3b3"/>
<path d="M783.2 325.1L823.0 325.1L825.6 340.8L785.5 340.8Z" fill="#fcc8c8"/>
<path d="M822.4 325.1L875.3 325.1L878.3 340.8L825.0 340.8Z" fill="#f6b3b3"/>
<path d="M874.7 325.1L966.8 325.1L970.5 340.8L877.7 340.8Z" fill="#fcc8c8"/>
<path d="M21.5 340.2L180.2 340.2L178.4 355.9L18.9 355.9Z" fill="#f6b3b3"/>
<path d="M179.6 340.2L219.7 340.2L218.2 355.9L177.8 355.9Z" fill="#fcc8c8"/>
<path d="M219.1 340.2L351.4 340.2L350.6 355.9L217.6 355.9Z" fill="#f6b3b3"/>
<path d="M350.8 340.2L377.7 340.2L377.1 355.9L350.0 355.9Z" fill="#fcc8c8"/>
<path d="M377.1 340.2L417.3 340.2L416.8 355.9L376.5 355.9Z" fill="#c8c8fc"/>
<path d="M416.7 340.2L430.4 340.2L430.1 355.9L416.2 355.9Z" fill="#fcc8c8"/>
<path d="M429.8 340.2L509.5 340.2L509.5 355.9L429.5 355.9Z" fill="#f6b3b3"/>
<path d="M508.9 340.2L522.6 340.2L522.8 355.9L508.9 355.9Z" fill="#c8c8fc"/>
<path d="M522.0 340.2L535.8 340.2L536.0 355.9L522.2 355.9Z" fill="#fcc8c8"/>
<path d="M535.2 340.2L562.2 340.2L562.5 355.9L535.4 355.9Z" fill="#c8c8fc"/>
<path d="M561.6 340.2L575.3 340.2L575.8 355.9L561.9 355.9Z" fill="#b4b4f7"/>
<path d="M574.7 340.2L588.5 340.2L589.0 355.9L575.2 355.9Z" fill="#c8c8fc"/>
<path d="M587.9 340.2L628.0 340.2L628.7 355.9L588.4 355.9Z" fill="#f6b3b3"/>
<path d="M627.4 340.2L733.4 340.2L734.7 355.9L628.1 355.9Z" fill="#fcc8c8"/>
<path d="M732.8 340.2L786.1 340.2L787.7 355.9L734.1 355.9Z" fill="#f6b3b3"/>
<path d="M785.5 340.2L957.3 340.2L959.9 355.9L787.1 355.9Z" fill="#fcc8c8"/>
<path d="M956.7 340.2L970.5 340.2L973.1 355.9L959.3 355.9Z" fill="#f6b3b3"/>
<path d="M18.9 355.3L151.9 355.3L150.8 370.9L17.4 370.9Z" fill="#f6b3b3"/>
<path d="M151.3 355.3L257.9 355.3L257.1 370.9L150.2 370.9Z" fill="#fcc8c8"/>
<path d="M257.3 355.3L350.6 355.3L350.1 370.9L256.5 370.9Z" fill="#f6b3b3"/>
<path d="M350.0 355.3L416.8 355.3L416.6 370.9L349.5 370.9Z" fill="#fcc8c8"/>
<path d="M416.2 355.3L628.7 355.3L629.2 370.9L416.0 370.9Z" fill="#f6b3b3"/>
<path d="M628.1 355.3L642.0 355.3L642.5 370.9L628.6 370.9Z" fill="#fcc8c8"/>
<path d="M641.4 355.3L695.0 355.3L695.6 370.9L641.9 370.9Z" fill="#f6b3b3"/>
<path d="M694.4 355.3L906.9 355.3L908.2 370.9L695.0 370.9Z" fill="#fcc8c8"/>
<path d="M906.3 355.3L973.1 355.3L974.6 370.9L907.6 370.9Z" fill="#f6b3b3"/>
<path d="M17.4 370.3L57.8 370.3L57.2 386.0L16.7 386.0Z" fill="#f19f9f"/>
<path d="M57.2 370.3L124.3 370.3L123.7 386.0L56.6 386.0Z" fill="#f6b3b3"/>
<path d="M123.7 370.3L270.4 370.3L270.1 386.0L123.1 386.0Z" fill="#fcc8c8"/>
<path d="M269.8 370.3L522.9 370.3L522.9 386.0L269.5 386.0Z" fill="#f6b3b3"/>
<path d="M522.3 370.3L536.2 370.3L536.2 386.0L522.3 386.0Z" fill="#f19f9f"/>
<path d="M535.6 370.3L735.5 370.3L735.8 386.0L535.6 386.0Z" fill="#f6b3b3"/>
<path d="M734.9 370.3L908.2 370.3L908.8 386.0L735.2 386.0Z" fill="#fcc8c8"/>
<path d="M907.6 370.3L961.3 370.3L962.0 386.0L908.2 386.0Z" fill="#f6b3b3"/>
<path d="M960.7 370.3L974.6 370.3L975.3 386.0L961.4 386.0Z" fill="#f19f9f"/>
<path d="M16.7 385.4L30.6 385.4L31.3 401.1L17.4 401.1Z" fill="#f19f9f"/>
<path d="M30.0 385.4L97.1 385.4L97.7 401.1L30.7 401.1Z" fill="#f6b3b3"/>
<path d="M96.5 385.4L190.3 385.4L190.7 401.1L97.1 401.1Z" fill="#fcc8c8"/>
<path d="M189.7 385.4L203.6 385.4L204.0 401.1L190.1 401.1Z" fill="#c8c8fc"/>
<path d="M203.0 385.4L216.9 385.4L217.3 401.1L203.4 401.1Z" fill="#fcc8c8"/>
<path d="M216.3 385.4L270.1 385.4L270.4 401.1L216.7 401.1Z" fill="#c8c8fc"/>
<path d="M269.5 385.4L283.4 385.4L283.7 401.1L269.8 401.1Z" fill="#fcc8c8"/>
<path d="M282.8 385.4L429.8 385.4L429.9 401.1L283.1 401.1Z" fill="#f6b3b3"/>
<path d="M429.2 385.4L509.6 385.4L509.6 401.1L429.3 401.1Z" fill="#f19f9f"/>
<path d="M509.0 385.4L522.9 385.4L522.9 401.1L509.0 401.1Z" fill="#f6b3b3"/>
<path d="M522.3 385.4L589.4 385.4L589.3 401.1L522.3 401.1Z" fill="#f19f9f"/>
<path d="M588.8 385.4L868.9 385.4L868.3 401.1L588.7 401.1Z" fill="#f6b3b3"/>
<path d="M868.3 385.4L895.5 385.4L894.9 401.1L867.7 401.1Z" fill="#fcc8c8"/>
<path d="M894.9 385.4L948.7 385.4L948.1 401.1L894.3 401.1Z" fill="#f6b3b3"/>
<path d="M948.1 385.4L975.3 385.4L974.6 401.1L947.5 401.1Z" fill="#f19f9f"/>
<path d="M17.4 400.5L71.1 400.5L72.5 416.1L18.9 416.1Z" fill="#f6b3b3"/>
<path d="M70.5 400.5L204.0 400.5L204.9 416.1L71.9 416.1Z" fill="#fcc8c8"/>
<path d="M203.4 400.5L283.7 400.5L284.4 416.1L204.3 416.1Z" fill="#c8c8fc"/>
<path d="M283.1 400.5L297.0 400.5L297.6 416.1L283.8 416.1Z" fill="#f6b3b3"/>
<path d="M296.4 400.5L310.3 400.5L310.9 416.1L297.0 416.1Z" fill="#f19f9f"/>
<path d="M309.7 400.5L376.7 400.5L377.1 416.1L310.3 416.1Z" fill="#f6b3b3"/>
<path d="M376.1 400.5L390.0 400.5L390.3 416.1L376.5 416.1Z" fill="#f19f9f"/>
<path d="M389.4 400.5L443.2 400.5L443.3 416.1L389.7 416.1Z" fill="#f6b3b3"/>
<path d="M442.6 400.5L483.0 400.5L483.1 416.1L442.7 416.1Z" fill="#f19f9f"/>
<path d="M482.4 400.5L496.3 400.5L496.3 416.1L482.5 416.1Z" fill="#eb8a8a"/>
<path d="M495.7 400.5L589.3 400.5L589.0 416.1L495.7 416.1Z" fill="#f19f9f"/>
<path d="M588.7 400.5L708.9 400.5L708.2 416.1L588.4 416.1Z" fill="#f6b3b3"/>
<path d="M708.3 400.5L748.8 400.5L747.9 416.1L707.6 416.1Z" fill="#fcc8c8"/>
<path d="M748.2 400.5L908.2 400.5L906.9 416.1L747.3 416.1Z" fill="#f6b3b3"/>
<path d="M907.6 400.5L921.5 400.5L920.1 416.1L906.3 416.1Z" fill="#fcc8c8"/>
<path d="M920.9 400.5L974.6 400.5L973.1 416.1L919.5 416.1Z" fill="#f6b3b3"/>
<path d="M18.9 415.5L204.9 415.5L206.5 431.2L21.5 431.2Z" fill="#fcc8c8"/>
<path d="M204.3 415.5L284.4 415.5L285.5 431.2L205.9 431.2Z" fill="#c8c8fc"/>
<path d="M283.8 415.5L297.6 415.5L298.7 431.2L284.9 431.2Z" fill="#f6b3b3"/>
<path d="M297.0 415.5L324.1 415.5L325.1 431.2L298.1 431.2Z" fill="#fcc8c8"/>
<path d="M323.5 415.5L363.9 415.5L364.6 431.2L324.5 431.2Z" fill="#f6b3b3"/>
<path d="M363.3 415.5L390.3 415.5L390.9 431.2L364.0 431.2Z" fill="#f19f9f"/>
<path d="M389.7 415.5L403.6 415.5L404.1 431.2L390.3 431.2Z" fill="#f6b3b3"/>
<path d="M403.0 415.5L443.3 415.5L443.6 431.2L403.5 431.2Z" fill="#fcc8c8"/>
<path d="M442.7 415.5L483.1 415.5L483.1 431.2L443.0 431.2Z" fill="#f6b3b3"/>
<path d="M482.5 415.5L522.8 415.5L522.6 431.2L482.5 431.2Z" fill="#f19f9f"/>
<path d="M522.2 415.5L536.0 415.5L535.8 431.2L522.0 431.2Z" fill="#eb8a8a"/>
<path d="M535.4 415.5L549.3 415.5L549.0 431.2L535.2 431.2Z" fill="#f6b3b3"/>
<path d="M548.7 415.5L575.8 415.5L575.3 431.2L548.4 431.2Z" fill="#f19f9f"/>
<path d="M575.2 415.5L642.0 415.5L641.2 431.2L574.7 431.2Z" fill="#f6b3b3"/>
<path d="M641.4 415.5L695.0 415.5L693.9 431.2L640.6 431.2Z" fill="#f19f9f"/>
<path d="M694.4 415.5L721.5 415.5L720.2 431.2L693.3 431.2Z" fill="#f6b3b3"/>
<path d="M720.9 415.5L774.4 415.5L772.9 431.2L719.6 431.2Z" fill="#fcc8c8"/>
<path d="M773.8 415.5L840.7 415.5L838.8 431.2L772.3 431.2Z" fill="#f6b3b3"/>
<path d="M840.1 415.5L853.9 415.5L852.0 431.2L838.2 431.2Z" fill="#f19f9f"/>
<path d="M853.3 415.5L893.6 415.5L891.5 431.2L851.4 431.2Z" fill="#f6b3b3"/>
<path d="M893.0 415.5L920.1 415.5L917.8 431.2L890.9 431.2Z" fill="#fcc8c8"/>
<path d="M919.5 415.5L973.1 415.5L970.5 431.2L917.2 431.2Z" fill="#f6b3b3"/>
<path d="M21.5 430.6L219.7 430.6L221.9 446.3L25.2 446.3Z" fill="#fcc8c8"/>
<path d="M219.1 430.6L285.5 430.6L287.2 446.3L221.3 446.3Z" fill="#c8c8fc"/>
<path d="M284.9 430.6L298.7 430.6L300.3 446.3L286.6 446.3Z" fill="#fcc8c8"/>
<path d="M298.1 430.6L390.9 430.6L391.8 446.3L299.7 446.3Z" fill="#f6b3b3"/>
<path d="M390.3 430.6L456.8 430.6L457.1 446.3L391.2 446.3Z" fill="#fcc8c8"/>
<path d="M456.2 430.6L470.0 430.6L470.2 446.3L456.5 446.3Z" fill="#f6b3b3"/>
<path d="M469.4 430.6L483.1 430.6L483.2 446.3L469.6 446.3Z" fill="#fcc8c8"/>
<path d="M482.5 430.6L509.5 430.6L509.4 446.3L482.6 446.3Z" fill="#f6b3b3"/>
<path d="M508.9 430.6L535.8 430.6L535.5 446.3L508.8 446.3Z" fill="#f19f9f"/>
<path d="M535.2 430.6L549.0 430.6L548.6 446.3L534.9 446.3Z" fill="#fcc8c8"/>
<path d="M548.4 430.6L562.2 430.6L561.6 446.3L548.0 446.3Z" fill="#f19f9f"/>
<path d="M561.6 430.6L575.3 430.6L574.7 446.3L561.0 446.3Z" fill="#f6b3b3"/>
<path d="M574.7 430.6L588.5 430.6L587.8 446.3L574.1 446.3Z" fill="#fcc8c8"/>
<path d="M587.9 430.6L654.4 430.6L653.1 446.3L587.2 446.3Z" fill="#f6b3b3"/>
<path d="M653.8 430.6L720.2 430.6L718.5 446.3L652.5 446.3Z" fill="#f19f9f"/>
<path d="M719.6 430.6L746.6 430.6L744.6 446.3L717.9 446.3Z" fill="#f6b3b3"/>
<path d="M746.0 430.6L772.9 430.6L770.7 446.3L744.0 446.3Z" fill="#fcc8c8"/>
<path d="M772.3 430.6L786.1 430.6L783.8 446.3L770.1 446.3Z" fill="#f6b3b3"/>
<path d="M785.5 430.6L838.8 430.6L836.1 446.3L783.2 446.3Z" fill="#f19f9f"/>
<path d="M838.2 430.6L852.0 430.6L849.2 446.3L835.5 446.3Z" fill="#eb8a8a"/>
<path d="M851.4 430.6L878.3 430.6L875.3 446.3L848.6 446.3Z" fill="#f19f9f"/>
<path d="M877.7 430.6L891.5 430.6L888.4 446.3L874.7 446.3Z" fill="#f6b3b3"/>
<path d="M890.9 430.6L944.2 430.6L940.6 446.3L887.8 446.3Z" fill="#fcc8c8"/>
<path d="M943.6 430.6L957.3 430.6L953.7 446.3L940.0 446.3Z" fill="#c8c8fc"/>
<path d="M956.7 430.6L970.5 430.6L966.8 446.3L953.1 446.3Z" fill="#fcc8c8"/>
<path d="M25.2 445.7L143.4 445.7L146.7 461.3L29.6 461.3Z" fill="#fcc8c8"/>
<path d="M142.8 445.7L300.3 445.7L302.1 461.3L146.1 461.3Z" fill="#c8c8fc"/>
<path d="M299.7 445.7L313.3 445.7L315.1 461.3L301.5 461.3Z" fill="#fcc8c8"/>
<path d="M312.7 445.7L339.5 445.7L340.9 461.3L314.5 461.3Z" fill="#f6b3b3"/>
<path d="M338.9 445.7L352.5 445.7L353.9 461.3L340.3 461.3Z" fill="#fcc8c8"/>
<path d="M351.9 445.7L391.8 445.7L392.7 461.3L353.3 461.3Z" fill="#f6b3b3"/>
<path d="M391.2 445.7L509.4 445.7L509.2 461.3L392.1 461.3Z" fill="#fcc8c8"/>
<path d="M508.8 445.7L535.5 445.7L535.1 461.3L508.6 461.3Z" fill="#f6b3b3"/>
<path d="M534.9 445.7L561.6 445.7L561.0 461.3L534.5 461.3Z" fill="#fcc8c8"/>
<path d="M561.0 445.7L574.7 445.7L574.0 461.3L560.4 461.3Z" fill="#f6b3b3"/>
<path d="M574.1 445.7L587.8 445.7L586.9 461.3L573.4 461.3Z" fill="#fcc8c8"/>
<path d="M587.2 445.7L627.0 445.7L625.8 461.3L586.3 461.3Z" fill="#f6b3b3"/>
<path d="M626.4 445.7L666.2 445.7L664.6 461.3L625.2 461.3Z" fill="#fcc8c8"/>
<path d="M665.6 445.7L679.3 445.7L677.5 461.3L664.0 461.3Z" fill="#f6b3b3"/>
<path d="M678.7 445.7L718.5 445.7L716.4 461.3L676.9 461.3Z" fill="#f19f9f"/>
<path d="M717.9 445.7L783.8 445.7L781.1 461.3L715.8 461.3Z" fill="#f6b3b3"/>
<path d="M783.2 445.7L836.1 445.7L832.9 461.3L780.5 461.3Z" fill="#f19f9f"/>
<path d="M835.5 445.7L875.3 445.7L871.7 461.3L832.3 461.3Z" fill="#eb8a8a"/>
<path d="M874.7 445.7L888.4 445.7L884.7 461.3L871.1 461.3Z" fill="#f19f9f"/>
<path d="M887.8 445.7L914.5 445.7L910.6 461.3L884.1 461.3Z" fill="#f6b3b3"/>
<path d="M913.9 445.7L966.8 445.7L962.4 461.3L910.0 461.3Z" fill="#fcc8c8"/>
<path d="M29.6 460.7L133.8 460.7L138.6 476.4L35.9 476.4Z" fill="#fcc8c8"/>
<path d="M133.2 460.7L237.4 460.7L240.8 476.4L138.0 476.4Z" fill="#c8c8fc"/>
<path d="M236.8 460.7L276.2 460.7L279.2 476.4L240.2 476.4Z" fill="#fcc8c8"/>
<path d="M275.6 460.7L315.1 460.7L317.5 476.4L278.6 476.4Z" fill="#c8c8fc"/>
<path d="M314.5 460.7L328.0 460.7L330.2 476.4L316.9 476.4Z" fill="#f6b3b3"/>
<path d="M327.4 460.7L379.8 460.7L381.3 476.4L329.6 476.4Z" fill="#fcc8c8"/>
<path d="M379.2 460.7L483.4 460.7L483.5 476.4L380.7 476.4Z" fill="#c8c8fc"/>
<path d="M482.8 460.7L561.0 460.7L560.2 476.4L482.9 476.4Z" fill="#fcc8c8"/>
<path d="M560.4 460.7L574.0 460.7L572.9 476.4L559.6 476.4Z" fill="#c8c8fc"/>
<path d="M573.4 460.7L625.8 460.7L624.0 476.4L572.3 476.4Z" fill="#fcc8c8"/>
<path d="M625.2 460.7L638.7 460.7L636.8 476.4L623.4 476.4Z" fill="#c8c8fc"/>
<path d="M638.1 460.7L677.5 460.7L675.1 476.4L636.2 476.4Z" fill="#b4b4f7"/>
<path d="M676.9 460.7L690.5 460.7L687.9 476.4L674.5 476.4Z" fill="#c8c8fc"/>
<path d="M689.9 460.7L768.2 460.7L764.5 476.4L687.3 476.4Z" fill="#fcc8c8"/>
<path d="M767.6 460.7L820.0 460.7L815.6 476.4L763.9 476.4Z" fill="#f6b3b3"/>
<path d="M819.4 460.7L858.8 460.7L854.0 476.4L815.0 476.4Z" fill="#eb8a8a"/>
<path d="M858.2 460.7L884.7 460.7L879.5 476.4L853.4 476.4Z" fill="#e67575"/>
<path d="M884.1 460.7L897.6 460.7L892.3 476.4L878.9 476.4Z" fill="#f19f9f"/>
<path d="M897.0 460.7L923.5 460.7L917.8 476.4L891.7 476.4Z" fill="#f6b3b3"/>
<path d="M922.9 460.7L962.4 460.7L956.1 476.4L917.2 476.4Z" fill="#fcc8c8"/>
<path d="M35.9 475.8L125.9 475.8L132.5 491.4L44.1 491.4Z" fill="#f6b3b3"/>
<path d="M125.3 475.8L151.4 475.8L157.6 491.4L131.9 491.4Z" fill="#fcc8c8"/>
<path d="M150.8 475.8L164.2 475.8L170.2 491.4L157.0 491.4Z" fill="#c8c8fc"/>
<path d="M163.6 475.8L202.5 475.8L207.8 491.4L169.6 491.4Z" fill="#b4b4f7"/>
<path d="M201.9 475.8L240.8 475.8L245.4 491.4L207.2 491.4Z" fill="#c8c8fc"/>
<path d="M240.2 475.8L317.5 475.8L320.7 491.4L244.8 491.4Z" fill="#fcc8c8"/>
<path d="M316.9 475.8L330.2 475.8L333.2 491.4L320.1 491.4Z" fill="#f19f9f"/>
<path d="M329.6 475.8L381.3 475.8L383.4 491.4L332.6 491.4Z" fill="#fcc8c8"/>
<path d="M380.7 475.8L534.6 475.8L533.9 491.4L382.8 491.4Z" fill="#c8c8fc"/>
<path d="M534.0 475.8L572.9 475.8L571.6 491.4L533.3 491.4Z" fill="#fcc8c8"/>
<path d="M572.3 475.8L624.0 475.8L621.7 491.4L571.0 491.4Z" fill="#c8c8fc"/>
<path d="M623.4 475.8L649.6 475.8L646.8 491.4L621.1 491.4Z" fill="#b4b4f7"/>
<path d="M649.0 475.8L662.4 475.8L659.4 491.4L646.2 491.4Z" fill="#a0a0f1"/>
<path d="M661.8 475.8L675.1 475.8L671.9 491.4L658.8 491.4Z" fill="#8b8bec"/>
<path d="M674.5 475.8L700.7 475.8L697.0 491.4L671.3 491.4Z" fill="#a0a0f1"/>
<path d="M700.1 475.8L726.2 475.8L722.1 491.4L696.4 491.4Z" fill="#b4b4f7"/>
<path d="M725.6 475.8L751.8 475.8L747.2 491.4L721.5 491.4Z" fill="#c8c8fc"/>
<path d="M751.2 475.8L777.3 475.8L772.2 491.4L746.6 491.4Z" fill="#fcc8c8"/>
<path d="M776.7 475.8L815.6 475.8L809.9 491.4L771.6 491.4Z" fill="#f6b3b3"/>
<path d="M815.0 475.8L866.7 475.8L860.1 491.4L809.3 491.4Z" fill="#f19f9f"/>
<path d="M866.1 475.8L892.3 475.8L885.1 491.4L859.5 491.4Z" fill="#e67575"/>
<path d="M891.7 475.8L956.1 475.8L947.9 491.4L884.5 491.4Z" fill="#fcc8c8"/>
<path d="M44.1 490.8L82.4 490.8L91.6 506.5L54.3 506.5Z" fill="#f19f9f"/>
<path d="M81.8 490.8L120.0 490.8L128.4 506.5L91.0 506.5Z" fill="#eb8a8a"/>
<path d="M119.4 490.8L132.5 490.8L140.7 506.5L127.8 506.5Z" fill="#f19f9f"/>
<path d="M131.9 490.8L157.6 490.8L165.2 506.5L140.1 506.5Z" fill="#f6b3b3"/>
<path d="M157.0 490.8L170.2 490.8L177.5 506.5L164.6 506.5Z" fill="#fcc8c8"/>
<path d="M169.6 490.8L182.7 490.8L189.7 506.5L176.9 506.5Z" fill="#c8c8fc"/>
<path d="M182.1 490.8L220.4 490.8L226.5 506.5L189.1 506.5Z" fill="#b4b4f7"/>
<path d="M219.8 490.8L245.4 490.8L251.1 506.5L225.9 506.5Z" fill="#c8c8fc"/>
<path d="M244.8 490.8L320.7 490.8L324.6 506.5L250.5 506.5Z" fill="#fcc8c8"/>
<path d="M320.1 490.8L333.2 490.8L336.9 506.5L324.0 506.5Z" fill="#f6b3b3"/>
<path d="M332.6 490.8L370.9 490.8L373.7 506.5L336.3 506.5Z" fill="#fcc8c8"/>
<path d="M370.3 490.8L446.1 490.8L447.3 506.5L373.1 506.5Z" fill="#c8c8fc"/>
<path d="M445.5 490.8L458.7 490.8L459.5 506.5L446.7 506.5Z" fill="#fcc8c8"/>
<path d="M458.1 490.8L609.2 490.8L606.7 506.5L458.9 506.5Z" fill="#c8c8fc"/>
<path d="M608.6 490.8L634.3 490.8L631.2 506.5L606.1 506.5Z" fill="#b4b4f7"/>
<path d="M633.7 490.8L709.5 490.8L704.8 506.5L630.6 506.5Z" fill="#a0a0f1"/>
<path d="M708.9 490.8L722.1 490.8L717.0 506.5L704.2 506.5Z" fill="#b4b4f7"/>
<path d="M721.5 490.8L747.2 490.8L741.5 506.5L716.4 506.5Z" fill="#c8c8fc"/>
<path d="M746.6 490.8L847.5 490.8L839.6 506.5L740.9 506.5Z" fill="#fcc8c8"/>
<path d="M846.9 490.8L872.6 490.8L864.2 506.5L839.0 506.5Z" fill="#f6b3b3"/>
<path d="M872.0 490.8L947.9 490.8L937.7 506.5L863.6 506.5Z" fill="#fcc8c8"/>
<path d="M54.3 505.9L79.4 505.9L90.9 521.3L66.4 521.3Z" fill="#f19f9f"/>
<path d="M78.8 505.9L128.4 505.9L138.6 521.3L90.3 521.3Z" fill="#eb8a8a"/>
<path d="M127.8 505.9L153.0 505.9L162.4 521.3L138.0 521.3Z" fill="#f19f9f"/>
<path d="M152.4 505.9L177.5 505.9L186.3 521.3L161.8 521.3Z" fill="#f6b3b3"/>
<path d="M176.9 505.9L189.7 505.9L198.2 521.3L185.7 521.3Z" fill="#fcc8c8"/>
<path d="M189.1 505.9L202.0 505.9L210.1 521.3L197.6 521.3Z" fill="#c8c8fc"/>
<path d="M201.4 505.9L226.5 505.9L234.0 521.3L209.5 521.3Z" fill="#b4b4f7"/>
<path d="M225.9 505.9L251.1 505.9L257.8 521.3L233.4 521.3Z" fill="#c8c8fc"/>
<path d="M250.5 505.9L312.4 505.9L317.4 521.3L257.2 521.3Z" fill="#fcc8c8"/>
<path d="M311.8 505.9L336.9 505.9L341.3 521.3L316.8 521.3Z" fill="#f6b3b3"/>
<path d="M336.3 505.9L349.2 505.9L353.2 521.3L340.7 521.3Z" fill="#fcc8c8"/>
<path d="M348.6 505.9L361.4 505.9L365.1 521.3L352.6 521.3Z" fill="#c8c8fc"/>
<path d="M360.8 505.9L373.7 505.9L377.1 521.3L364.5 521.3Z" fill="#b4b4f7"/>
<path d="M373.1 505.9L385.9 505.9L389.0 521.3L376.5 521.3Z" fill="#c8c8fc"/>
<path d="M385.3 505.9L435.0 505.9L436.7 521.3L388.4 521.3Z" fill="#fcc8c8"/>
<path d="M434.4 505.9L459.5 505.9L460.5 521.3L436.1 521.3Z" fill="#f6b3b3"/>
<path d="M458.9 505.9L545.3 505.9L544.0 521.3L459.9 521.3Z" fill="#fcc8c8"/>
<path d="M544.7 505.9L557.6 505.9L555.9 521.3L543.4 521.3Z" fill="#c8c8fc"/>
<path d="M557.0 505.9L582.1 505.9L579.8 521.3L555.3 521.3Z" fill="#fcc8c8"/>
<path d="M581.5 505.9L631.2 505.9L627.5 521.3L579.2 521.3Z" fill="#c8c8fc"/>
<path d="M630.6 505.9L655.7 505.9L651.3 521.3L626.9 521.3Z" fill="#b4b4f7"/>
<path d="M655.1 505.9L668.0 505.9L663.2 521.3L650.7 521.3Z" fill="#a0a0f1"/>
<path d="M667.4 505.9L704.8 505.9L699.0 521.3L662.6 521.3Z" fill="#b4b4f7"/>
<path d="M704.2 505.9L717.0 505.9L710.9 521.3L698.4 521.3Z" fill="#c8c8fc"/>
<path d="M716.4 505.9L827.4 505.9L818.3 521.3L710.3 521.3Z" fill="#fcc8c8"/>
<path d="M826.8 505.9L888.7 505.9L877.9 521.3L817.7 521.3Z" fill="#c8c8fc"/>
<path d="M888.1 505.9L937.7 505.9L925.6 521.3L877.3 521.3Z" fill="#fcc8c8"/>
<path d="M66.4 520.7L150.5 520.7L161.4 536.0L80.0 536.0Z" fill="#f19f9f"/>
<path d="M149.9 520.7L174.3 520.7L184.5 536.0L160.8 536.0Z" fill="#f6b3b3"/>
<path d="M173.7 520.7L198.2 520.7L207.6 536.0L183.9 536.0Z" fill="#fcc8c8"/>
<path d="M197.6 520.7L245.9 520.7L253.8 536.0L207.0 536.0Z" fill="#c8c8fc"/>
<path d="M245.3 520.7L281.7 520.7L288.4 536.0L253.2 536.0Z" fill="#fcc8c8"/>
<path d="M281.1 520.7L317.4 520.7L323.1 536.0L287.8 536.0Z" fill="#f6b3b3"/>
<path d="M316.8 520.7L353.2 520.7L357.7 536.0L322.5 536.0Z" fill="#fcc8c8"/>
<path d="M352.6 520.7L389.0 520.7L392.4 536.0L357.1 536.0Z" fill="#c8c8fc"/>
<path d="M388.4 520.7L412.8 520.7L415.5 536.0L391.8 536.0Z" fill="#fcc8c8"/>
<path d="M412.2 520.7L484.4 520.7L484.8 536.0L414.9 536.0Z" fill="#f6b3b3"/>
<path d="M483.8 520.7L508.2 520.7L507.8 536.0L484.2 536.0Z" fill="#fcc8c8"/>
<path d="M507.6 520.7L532.1 520.7L530.9 536.0L507.2 536.0Z" fill="#f6b3b3"/>
<path d="M531.5 520.7L603.6 520.7L600.2 536.0L530.3 536.0Z" fill="#fcc8c8"/>
<path d="M603.0 520.7L687.1 520.7L681.1 536.0L599.6 536.0Z" fill="#c8c8fc"/>
<path d="M686.5 520.7L710.9 520.7L704.2 536.0L680.5 536.0Z" fill="#fcc8c8"/>
<path d="M710.3 520.7L782.5 520.7L773.4 536.0L703.6 536.0Z" fill="#f6b3b3"/>
<path d="M781.9 520.7L818.3 520.7L808.1 536.0L772.8 536.0Z" fill="#fcc8c8"/>
<path d="M817.7 520.7L877.9 520.7L865.8 536.0L807.5 536.0Z" fill="#c8c8fc"/>
<path d="M877.3 520.7L901.7 520.7L888.9 536.0L865.2 536.0Z" fill="#fcc8c8"/>
<path d="M901.1 520.7L925.6 520.7L912.0 536.0L888.3 536.0Z" fill="#f6b3b3"/>
<path d="M80.0 535.4L103.7 535.4L118.6 550.5L95.7 550.5Z" fill="#f6b3b3"/>
<path d="M103.1 535.4L138.3 535.4L151.9 550.5L118.0 550.5Z" fill="#f19f9f"/>
<path d="M137.7 535.4L173.0 535.4L185.2 550.5L151.3 550.5Z" fill="#f6b3b3"/>
<path d="M172.4 535.4L196.1 535.4L207.4 550.5L184.6 550.5Z" fill="#fcc8c8"/>
<path d="M195.5 535.4L219.2 535.4L229.7 550.5L206.8 550.5Z" fill="#c8c8fc"/>
<path d="M218.6 535.4L230.7 535.4L240.8 550.5L229.1 550.5Z" fill="#fcc8c8"/>
<path d="M230.1 535.4L242.2 535.4L251.9 550.5L240.2 550.5Z" fill="#c8c8fc"/>
<path d="M241.6 535.4L288.4 535.4L296.3 550.5L251.3 550.5Z" fill="#fcc8c8"/>
<path d="M287.8 535.4L357.7 535.4L363.0 550.5L295.7 550.5Z" fill="#f6b3b3"/>
<path d="M357.1 535.4L392.4 535.4L396.3 550.5L362.4 550.5Z" fill="#fcc8c8"/>
<path d="M391.8 535.4L450.1 535.4L451.9 550.5L395.7 550.5Z" fill="#f6b3b3"/>
<path d="M449.5 535.4L704.2 535.4L696.3 550.5L451.3 550.5Z" fill="#fcc8c8"/>
<path d="M703.6 535.4L796.5 535.4L785.2 550.5L695.7 550.5Z" fill="#f6b3b3"/>
<path d="M795.9 535.4L888.9 535.4L874.0 550.5L784.6 550.5Z" fill="#fcc8c8"/>
<path d="M888.3 535.4L912.0 535.4L896.3 550.5L873.4 550.5Z" fill="#f6b3b3"/>
<path d="M95.7 549.9L185.2 549.9L198.8 564.5L113.2 564.5Z" fill="#f6b3b3"/>
<path d="M184.6 549.9L274.1 549.9L283.8 564.5L198.2 564.5Z" fill="#fcc8c8"/>
<path d="M273.5 549.9L296.3 549.9L305.0 564.5L283.2 564.5Z" fill="#f6b3b3"/>
<path d="M295.7 549.9L329.6 549.9L336.9 564.5L304.4 564.5Z" fill="#fcc8c8"/>
<path d="M329.0 549.9L351.9 549.9L358.2 564.5L336.3 564.5Z" fill="#f6b3b3"/>
<path d="M351.3 549.9L518.5 549.9L517.6 564.5L357.6 564.5Z" fill="#fcc8c8"/>
<path d="M517.9 549.9L529.6 549.9L528.2 564.5L517.0 564.5Z" fill="#c8c8fc"/>
<path d="M551.3 549.9L696.3 549.9L687.6 564.5L548.8 564.5Z" fill="#fcc8c8"/>
<path d="M695.7 549.9L774.1 549.9L761.9 564.5L687.0 564.5Z" fill="#f6b3b3"/>
<path d="M773.5 549.9L851.8 549.9L836.3 564.5L761.3 564.5Z" fill="#fcc8c8"/>
<path d="M851.2 549.9L896.3 549.9L878.8 564.5L835.7 564.5Z" fill="#f6b3b3"/>
<path d="M251.3 563.9L273.2 563.9L284.0 578.0L263.2 578.0Z" fill="#fcc8c8"/>
<path d="M272.6 563.9L305.0 563.9L314.4 578.0L283.4 578.0Z" fill="#f6b3b3"/>
<path d="M304.4 563.9L379.4 563.9L385.1 578.0L313.8 578.0Z" fill="#fcc8c8"/>
<path d="M400.1 563.9L411.3 563.9L415.4 578.0L404.7 578.0Z" fill="#c8c8fc"/>
<path d="M580.7 563.9L857.6 563.9L840.0 578.0L576.6 578.0Z" fill="#fcc8c8"/>
<path d="M857.0 563.9L878.8 563.9L860.2 578.0L839.4 578.0Z" fill="#f6b3b3"/>
<path d="M354.2 577.4L364.9 577.4L372.0 590.9L361.8 590.9Z" fill="#fcc8c8"/>
<path d="M364.3 577.4L375.0 577.4L381.6 590.9L371.4 590.9Z" fill="#c8c8fc"/>
<path d="M566.5 577.4L577.2 577.4L572.8 590.9L562.6 590.9Z" fill="#fcc8c8"/>
<path d="M617.0 577.4L627.7 577.4L620.6 590.9L610.4 590.9Z" fill="#fcc8c8"/>
<path d="M647.3 577.4L658.0 577.4L649.3 590.9L639.1 590.9Z" fill="#f6b3b3"/>
<path d="M677.6 577.4L688.4 577.4L678.0 590.9L667.8 590.9Z" fill="#fcc8c8"/>
<path d="M718.1 577.4L728.8 577.4L716.2 590.9L706.1 590.9Z" fill="#fcc8c8"/>
<path d="M768.6 577.4L789.4 577.4L773.6 590.9L753.9 590.9Z" fill="#fcc8c8"/>
<path d="M476.6 590.3L486.7 590.3L487.3 603.1L477.8 603.1Z" fill="#f6b3b3"/>
<path d="M514.8 590.3L525.0 590.3L523.2 603.1L513.6 603.1Z" fill="#f6b3b3"/>
<path d="M792.1 590.3L811.8 590.3L791.9 603.1L773.4 603.1Z" fill="#eb8a8a"/>
<path d="M433.0 602.5L442.6 602.5L446.7 614.2L437.8 614.2Z" fill="#f19f9f"/>
<path d="M442.0 602.5L451.5 602.5L455.0 614.2L446.1 614.2Z" fill="#f6b3b3"/>
<path d="M782.3 602.5L809.8 602.5L785.6 614.2L760.2 614.2Z" fill="#f6b3b3"/>
</g>
<g clip-path="url(#ol)"><path d="M209.3 238.6L274.6 238.6L276.0 237.7L279.1 239.7L283.1 241.2L286.5 241.5M296.1 245.9L298.1 247.4L299.6 249.5L297.2 256.3L294.6 258.7L294.9 259.9M305.3 256.6L305.7 255.4M312.8 253.0L317.8 250.4L325.5 250.4L329.3 247.7L333.4 243.3L336.1 243.6L335.0 248.3L336.2 250.4M225.1 181.8L197.2 206.4L200.9 207.0L200.8 210.3L207.2 208.1L208.0 211.7L207.4 216.4L209.6 218.4L206.0 221.8M199.4 287.8L205.7 287.2L213.6 291.4L220.8 291.4L221.2 289.9L225.6 289.9L228.5 293.5L228.8 296.2L231.5 298.3L234.0 295.9L236.8 295.9L239.1 300.7L239.9 302.9L240.5 306.2L244.8 307.7M252.9 342.0L253.2 339.6L254.8 337.2L258.2 337.2L257.0 333.9L257.3 332.1L262.0 332.1L261.3 337.8L262.1 337.8M261.3 337.8L260.6 342.3L258.3 344.1M260.6 342.3L262.5 343.5L264.2 345.3M264.4 346.5L267.2 344.1L269.9 343.8L272.8 341.4L276.8 340.5M269.2 352.3L271.8 352.6L274.5 352.9M276.1 361.0L277.1 356.8M289.2 363.7L290.8 359.8M308.5 326.4L307.7 331.5M307.5 349.5L304.9 352.3L302.5 357.7L304.0 360.7L304.9 364.6L310.2 364.6L311.7 367.3L317.0 367.0L315.8 372.1L317.3 377.3L317.7 382.1M317.7 382.1L310.3 380.6L311.4 382.4L309.7 384.2L309.7 386.3L311.1 389.3L310.2 398.4M310.2 398.4L309.6 393.8L303.7 392.9L299.9 389.6L295.9 386.0M295.9 386.0L293.0 384.5L289.8 383.6L286.4 381.5M295.9 386.0L295.1 390.2L292.0 393.5L288.6 395.6L287.6 399.3L285.3 400.8L282.6 399.0L282.5 395.9M310.2 398.4L302.6 401.1L300.1 407.7L302.8 413.4L304.8 415.8L308.9 414.3L309.2 418.8L311.8 418.5M311.8 418.5L314.5 423.4L314.1 429.4L313.0 431.8L314.0 434.5L313.3 437.8L313.6 438.4M313.6 438.4L311.8 441.1M311.8 418.5L314.5 419.1L319.6 415.5L322.7 415.2L323.3 420.9L326.1 423.4L330.1 424.9L332.9 426.4L336.4 427.3L337.7 434.8L342.4 434.8L342.9 437.8L345.3 440.5L344.7 442.9L343.9 446.6M343.9 446.6L341.3 443.8L334.6 444.7L333.3 447.5L333.0 452.6M333.0 452.6L328.8 454.4L326.2 452.3L323.2 451.4L321.2 454.4M321.2 454.4L318.2 450.5L317.0 446.0L315.6 442.9L313.6 438.4M321.2 454.4L321.8 455.0L319.0 459.5L319.3 465.5L317.1 471.6L317.5 477.6L317.6 482.1L319.6 486.6L319.5 492.6L319.4 497.2L320.6 501.7L320.2 506.2L321.8 512.1L323.5 516.6L325.5 521.0L326.3 525.5L326.5 529.9L326.1 534.3L329.1 538.7L332.1 541.5L336.7 541.5L340.8 542.7M340.7 543.6L343.4 549.9M343.9 446.6L345.2 452.3L351.0 452.9L352.0 457.7L355.1 458.3L354.8 462.8M333.0 452.6L337.7 457.4L343.7 460.4L347.0 462.5L345.1 467.6L350.6 468.2L352.4 468.2L354.8 462.8M354.8 462.8L357.4 464.9L357.4 467.6L352.7 471.0L348.9 476.7M348.9 476.7L353.3 478.5L356.1 480.0L359.5 482.4L361.3 484.2L361.3 487.2M348.9 476.7L348.6 483.6L348.9 488.1M337.4 360.7L333.3 364.0L333.7 367.0L332.9 367.9L334.7 370.0M334.7 370.0L333.9 372.1L329.0 374.3L325.1 373.3L325.8 378.2L321.7 382.7L319.6 383.3L317.7 382.1M334.7 370.0L336.6 370.6L337.0 372.4L336.7 378.2L339.0 381.8L341.7 381.2L345.7 380.0M344.1 367.6L343.7 370.6L341.8 373.6L342.0 377.3L345.7 380.0M352.6 368.2L351.4 372.1L351.8 378.8M345.7 380.0L347.3 379.7L350.8 378.8L351.8 378.8L355.3 379.1L358.6 373.6M490.5 280.0L491.7 284.2L493.0 288.4L488.4 290.2L486.8 292.6L482.7 295.6L478.1 296.8L473.7 299.2L473.6 302.3M473.6 302.3L462.0 302.3M473.6 302.3L473.5 307.4L465.0 307.4L464.8 314.9L462.2 316.4L462.1 321.5L451.7 321.5M473.6 303.5L483.6 310.4L479.2 310.4L481.5 336.0L482.0 339.0L471.5 339.3L467.8 339.3L465.7 338.7L463.9 341.1M452.6 337.5L457.9 335.7L461.0 338.1L463.9 341.1M483.6 310.4L499.1 322.1L499.1 323.3L503.8 326.1L504.6 328.5L507.0 328.2M507.0 328.2L511.2 327.0L515.6 323.0L527.2 314.9M527.2 314.9L522.7 311.9L520.3 306.8L521.5 302.9L521.1 298.3L520.3 294.7M520.3 294.7L519.1 289.0L517.0 287.5L514.9 283.9L516.6 280.9L516.7 275.7L517.4 274.5M520.3 294.7L522.2 292.6L522.2 289.9L525.1 287.5L525.1 285.7M559.5 290.5L561.1 319.4M561.1 319.4L561.3 325.4L558.7 325.4L558.8 327.0M558.8 327.0L537.6 314.9L535.0 316.4L532.9 317.6L527.2 314.9M561.1 319.4L592.1 319.4M558.8 327.0L559.2 338.4L556.5 338.4L555.3 343.2L554.7 347.4L556.6 351.4L556.6 352.9M535.0 316.4L535.6 320.9L537.8 324.5L536.6 331.5L536.7 334.8L531.9 344.4M531.9 344.4L529.0 346.2L522.4 345.6L519.0 346.8L514.5 346.5L510.5 343.8L506.8 345.0L505.5 350.5M507.0 328.2L507.0 335.1L505.2 339.3L498.6 340.8L496.5 340.8M496.5 340.8L490.7 342.9L488.1 344.7L484.6 345.9L482.0 350.2L481.4 354.4M496.5 340.8L497.1 343.5L500.0 347.4L502.3 348.6L503.4 348.3L505.5 350.5M505.5 350.5L506.1 354.1L503.2 358.6L503.2 366.4M500.2 367.0L500.2 358.6L498.1 354.7L498.4 352.6M499.2 367.3L497.3 363.1L497.1 357.1L496.0 353.8L495.7 352.3M502.3 348.6L498.4 352.6L495.7 352.3L488.6 352.6L488.6 356.5L488.8 361.6L487.5 367.0L487.8 370.3M488.6 356.5L485.4 356.2L481.4 354.4M481.4 354.4L479.6 354.1L474.8 355.0L473.0 352.6L471.4 348.3L468.8 348.9L465.9 348.3M465.9 348.3L465.9 346.5L464.3 343.5L463.9 341.1M465.9 348.3L459.8 347.7L451.9 348.3M459.8 347.7L459.8 350.5L457.1 351.1L456.3 352.9M451.7 344.7L456.4 344.1L459.6 345.0L456.4 345.9L451.6 346.2M460.7 358.6L462.9 355.9L466.3 355.6L467.9 358.3L468.7 360.1M468.7 360.1L465.5 364.9M468.7 360.1L470.8 360.4L471.3 363.4L473.4 362.8L473.7 366.4L476.1 368.2L476.1 372.4M473.4 362.8L475.6 360.4L474.8 355.0M533.5 347.1L534.6 351.1L531.2 355.3L528.6 360.4L527.3 364.6L523.1 364.9L520.7 366.7L518.9 371.2M533.5 347.1L535.4 348.9L536.0 352.6L537.3 355.6L533.6 355.6L532.8 356.8L536.3 360.4L537.1 363.1M537.1 363.1L534.8 367.6L534.5 370.6L536.4 373.6L538.8 377.0L539.1 379.1M539.1 379.1L531.4 379.1L526.1 379.1L522.1 378.8M526.1 379.1L526.1 382.7L521.5 382.7M531.4 379.1L531.1 381.8L534.3 381.5L534.6 387.5L533.0 389.6L534.3 391.7L533.0 392.9L530.1 391.4L529.2 392.9L526.9 392.9L527.6 395.9L525.5 397.4M545.5 375.2L544.1 378.8L543.4 384.8L542.8 387.8L539.1 391.7L538.3 397.1L536.4 399.0L534.3 400.5L530.8 399.6L529.5 400.8L528.4 403.2M528.4 400.8L530.6 399.6M539.1 379.1L540.1 375.2L545.5 375.2M545.5 375.2L545.4 372.7L547.6 370.6L550.8 372.4L555.5 373.3L556.9 371.2L560.8 370.3L563.2 370.6L566.4 370.3L568.8 370.3M537.1 363.1L541.1 362.5L545.3 361.3L546.4 358.6L550.1 358.3L553.5 353.8L556.6 352.9M556.6 352.9L558.8 355.9L558.3 359.5L560.2 360.7L562.9 362.2L566.1 365.8L568.8 370.3M558.3 359.5L561.7 356.2L566.2 357.1L570.2 357.7L572.8 355.6L575.4 354.7L578.1 356.2L581.7 350.5L583.8 348.9L583.6 353.5L586.1 357.1M586.1 357.1L586.4 359.8L583.6 362.2L588.1 365.5L589.8 369.4L591.4 371.8M586.1 357.1L586.8 353.8L588.6 350.2L591.4 347.4L592.2 342.6L591.9 340.2L593.2 334.5L597.2 331.5M592.2 342.6L595.9 341.4L598.8 341.7L603.6 343.2L608.0 348.0M608.0 348.0L606.6 352.6L609.5 352.9L610.3 351.1M609.5 352.9L609.9 356.8L612.6 358.6L620.7 361.6L623.3 361.6L615.6 370.6L611.6 371.2L607.6 373.0L607.4 374.0M607.4 374.0L604.5 373.0L601.0 375.5L597.3 374.9L594.1 372.4L591.4 371.8M607.4 374.0L605.0 377.3L605.1 388.1L606.7 390.8M591.4 371.8L586.4 373.0L587.7 375.2L589.1 380.6L587.8 382.4L586.5 385.1L586.2 388.7M586.4 373.0L583.7 374.0L581.1 374.9L578.4 374.6L577.9 375.2L579.3 379.1L577.1 382.1L575.6 383.9L574.8 388.4L574.8 389.9M568.8 370.3L571.5 372.7L574.4 372.1L577.9 375.2M586.2 388.7L596.0 394.7L596.2 396.2L600.2 399.9M586.2 388.7L577.2 388.7L577.9 392.6L577.1 392.9M574.8 389.9L577.2 388.7L577.1 392.9L573.1 393.8L574.8 389.9M573.1 393.8L577.1 392.9L576.8 395.6L574.1 399.0L573.1 393.8M578.2 411.6L583.2 414.0L585.8 414.9L586.1 414.3M587.5 420.6L590.7 420.3L595.2 420.9L597.9 419.7L603.0 417.3M577.7 410.4L572.6 411.3L571.3 413.7L571.7 418.8L572.6 423.1L574.8 422.5L574.7 426.1L571.0 423.4L567.9 420.6L562.9 419.4L560.6 420.0L559.5 418.5L554.7 419.4L554.1 424.9M528.4 403.2L531.1 403.5L540.1 403.5L541.1 407.4L546.4 409.8L549.1 406.8L553.9 407.7L554.3 415.2L554.7 419.4M554.1 424.9L553.9 434.5L557.4 438.7M527.0 437.8L532.8 438.1L544.3 438.1L552.1 439.9L557.4 438.7L562.4 439.3M551.0 440.8L550.7 452.0L548.1 452.0L547.8 460.4L547.3 471.3M538.3 471.9L540.6 472.2L542.7 472.8L545.2 472.8L547.3 471.3M547.8 460.4L549.6 466.4L552.8 464.9L555.5 461.9L561.9 463.1L565.5 458.9L566.1 456.8L572.5 452.6L577.5 453.2M562.4 439.3L564.5 444.4L568.3 447.5L569.0 450.8L572.5 452.6M562.4 439.3L566.8 439.9L572.0 433.9L576.0 432.7M576.0 432.7L578.3 433.9L582.5 436.0L582.5 441.4L581.4 447.5L577.5 453.2L578.9 459.5L578.2 463.7L578.8 466.4L580.8 466.4M576.0 432.7L575.6 430.3L583.6 427.9L582.3 426.7L583.2 423.7L584.1 418.8L584.0 414.6L583.2 414.0M583.6 427.9L587.0 429.1L590.2 433.9L588.7 437.2L586.5 434.5L586.4 429.1M565.1 474.9L567.0 472.8L569.6 471.9L571.2 474.3L570.3 476.1L567.9 477.9L565.9 477.0L565.1 474.9M576.1 464.0L578.4 463.7L578.8 466.4L576.6 467.9L575.4 466.4L576.1 464.0M474.4 259.6L476.1 259.0L480.0 259.6L480.9 260.5L479.2 262.3L478.8 266.1L477.6 266.4L478.7 270.6L477.6 273.6M491.7 255.1L497.7 256.9L500.1 257.8L503.7 258.1M514.0 253.9L512.8 252.7L512.4 249.8L512.6 247.7L510.4 246.8L510.4 245.6L512.4 243.0L513.8 242.7M513.8 242.7L515.1 238.6L510.8 237.1L509.4 237.1L507.1 235.7L505.7 235.7L501.7 232.5M503.8 231.6L505.8 231.6L507.4 231.3L509.3 232.2L509.8 233.3L509.9 230.4L511.5 229.9L511.9 228.7L512.2 226.1M509.8 233.3L510.1 235.4L510.8 237.1M515.1 221.5L518.0 221.8M528.1 224.4L527.9 227.3L529.4 229.6L530.4 232.7M530.4 232.7L528.8 232.7L525.9 234.5L524.1 234.8L524.9 236.5L528.1 239.2M528.1 239.2L525.9 241.2L526.5 243.0L524.6 242.7L520.7 243.0L518.5 243.0L516.2 242.4L513.8 242.7M512.6 247.7L516.1 246.8L517.3 247.7L518.0 245.9L520.8 245.0L518.6 244.2L518.5 243.0M520.8 245.0L524.7 244.4L525.3 245.3L528.4 245.9L528.3 248.0L528.6 248.6M528.1 239.2L530.9 238.6L535.4 239.7L536.0 241.5L534.0 244.7L531.4 245.6L528.4 245.9M530.4 232.7L533.5 233.9L534.9 234.8L539.1 237.1L541.2 237.1L542.7 238.0L548.5 238.3M539.1 237.1L536.0 238.9L535.4 239.7M536.0 241.5L540.1 242.1L542.8 240.9L547.6 240.3M548.5 238.3L551.2 234.2L549.9 231.3L549.5 228.1L549.6 224.4L548.3 223.5L546.9 223.0L540.2 223.0M542.2 218.1L546.3 217.3L551.0 217.8L554.8 219.3M548.7 213.1L552.4 213.3L555.6 214.2M549.6 224.4L553.3 223.5L554.8 219.3L558.1 218.1L555.6 214.2L554.8 210.3L555.8 208.6M546.9 223.0L546.4 221.2L543.2 220.4M554.8 205.9L558.6 202.0L561.1 199.3L557.4 196.9L557.8 194.2L555.4 191.1L553.4 188.7L554.9 186.6L551.2 183.6L552.0 183.0L555.0 181.3M551.8 183.0L549.3 180.5L545.9 181.5L545.7 183.3L542.0 184.1L537.1 182.5L535.8 183.0M535.8 183.0L542.2 186.1L543.2 189.7L544.3 191.6M535.8 183.0L531.2 184.6L528.3 187.1L526.7 190.3L524.9 193.4L524.0 196.1L521.1 197.7L521.6 203.1L522.9 203.9L522.1 206.7L521.2 208.6L520.5 210.0M549.9 231.3L558.8 231.3L566.0 231.9L568.3 229.6M568.3 229.6L569.6 225.8L564.6 221.8L564.3 219.5L558.1 218.1M568.3 229.6L574.4 230.4L578.0 234.5L583.8 235.9L588.9 236.8L589.1 242.1L585.9 244.2M547.6 240.3L549.6 241.5L554.4 242.4L558.2 240.9L563.1 248.9L566.5 249.5M558.2 240.9L560.9 240.0L564.2 241.8L566.9 246.2L563.1 248.9M549.6 241.5L546.1 246.2L544.1 247.1M544.1 247.1L547.0 249.8L547.3 250.9L550.4 252.7M550.4 252.7L551.2 253.9L557.1 254.5L560.7 253.0L564.7 254.2M534.0 244.7L535.2 245.9L537.7 247.7L540.6 247.7L544.1 247.1M528.6 248.9L532.4 248.9L533.2 246.8L535.2 245.9M533.6 249.8L536.3 249.8L541.3 250.4L542.3 250.6M533.6 249.8L534.8 252.7L538.5 256.3L540.8 257.8M542.3 250.6L542.1 253.3L542.9 254.5L540.8 255.7L540.8 257.8M540.6 247.7L542.3 250.6M550.4 252.7L550.1 256.3L550.3 258.4L551.8 261.4L547.0 262.6L546.0 259.6L544.6 257.5L543.1 259.6M540.8 257.8L542.4 254.8L545.0 256.9L544.6 257.5M544.6 257.5L548.1 258.7L550.3 258.4M547.0 262.6L545.1 266.1M551.8 261.4L555.6 260.8L559.6 261.4L559.9 260.2L560.8 261.4L559.5 262.9M559.9 260.2L562.7 259.3L563.9 259.3M597.0 260.8L602.1 262.0L603.1 264.9L606.0 266.1L604.2 267.0L605.9 271.2L607.3 273.6L601.4 273.9L597.4 273.9L590.6 274.8L587.4 274.8L586.5 277.9L585.7 277.6M592.3 255.1L598.4 255.7L602.4 257.5L608.7 259.6L612.5 261.7L614.1 259.9M608.7 259.6L609.4 262.3L605.6 261.4L602.1 262.0M605.6 261.4L610.7 268.5M606.0 266.1L610.7 268.5L614.0 266.4L616.9 270.0M601.4 273.9L599.4 280.9L593.9 285.1L589.3 288.4L586.6 287.2M584.7 286.0L586.4 285.4L588.1 282.7L586.5 281.5M586.6 287.2L586.2 290.8L585.6 296.8M583.2 291.4L585.3 296.8M593.9 285.1L595.4 288.7L590.1 290.8L592.9 293.8L591.8 295.3L588.2 297.7L585.3 297.1M595.4 288.7L603.2 292.0L610.5 297.7L615.1 298.0L618.4 299.8L620.2 299.8M615.1 298.0L617.1 295.0L618.6 295.3M607.3 273.6L609.7 277.6L611.9 280.0L610.6 283.3L612.6 286.3L617.1 289.6L617.5 292.3L620.2 295.6M608.5 336.3L609.6 333.0L612.8 333.3L619.5 334.5L622.4 330.9L632.1 328.5L635.5 335.4M632.1 328.5L639.8 325.4L641.1 319.4L639.6 317.3M639.6 317.3L632.8 316.7L629.8 312.8M639.6 317.3L641.3 313.4L642.1 310.7M627.6 311.0L628.7 311.6M629.9 273.3L632.2 271.2L637.5 270.6L642.4 272.7L648.5 275.4L648.7 278.8L648.4 283.3L650.8 290.8L653.4 292.3L651.7 295.9L654.2 299.2L657.3 300.7L658.8 303.8L659.3 305.6L655.4 309.8M651.7 295.9L656.0 297.1L660.1 297.1L665.5 295.9L665.1 292.6L668.7 290.2L671.9 289.6L671.6 286.0L673.5 285.1L675.0 283.0L675.4 279.4L674.1 277.0L677.7 274.5L682.1 273.6M649.2 278.5L653.8 279.1L656.9 276.3L659.1 272.7L664.5 273.6L668.4 272.4L670.2 272.7L672.8 270.3L674.3 275.1L678.5 273.0L682.1 273.6M673.1 314.3L674.4 312.5L680.1 312.2L677.7 308.3L676.4 304.4L677.4 301.3L681.6 298.9L684.8 295.6L685.7 292.3L684.7 286.9L682.4 283.3L689.2 280.3L690.8 278.8M690.8 278.8L694.4 282.1L695.3 287.8L696.1 290.8L702.8 294.7M702.8 294.7L705.5 294.4L711.3 298.6L717.0 301.3L722.5 301.7M702.8 294.7L701.4 298.9L710.4 303.2L715.3 305.6L723.4 306.2L722.5 301.7L724.9 303.5M724.9 303.5L726.7 300.7L731.5 301.7L733.1 303.2L733.1 304.7L728.0 305.0L725.1 304.7L724.9 303.5M731.5 301.7L735.6 299.5L739.3 297.7L742.2 297.1L745.9 300.7M723.4 306.2L728.0 307.4L728.4 309.5L735.2 310.4L735.2 313.4L732.9 314.9L735.2 317.9L737.5 321.5L737.0 323.3M724.1 305.9L723.7 308.0L726.1 309.8L724.4 311.9L726.1 312.8L727.8 319.4M745.9 300.7L743.7 303.5L741.6 305.9L740.8 309.8L740.5 313.7L738.1 313.4L739.1 317.9L737.5 321.5M745.9 300.7L749.9 302.6L751.0 307.7L749.0 312.2L753.0 315.8L754.7 316.7L754.3 319.1L757.5 320.9L759.8 320.6M759.8 320.6L757.5 324.2L754.6 326.1L752.2 329.7L751.2 330.0L755.4 337.2L754.7 340.2L757.8 344.4L759.2 350.8L757.6 354.4L757.4 355.0M760.0 321.8L761.7 318.2M761.7 318.2L766.4 317.9L769.6 315.5L773.5 317.0L773.9 319.4L777.6 320.9M761.7 318.2L764.2 320.3L767.6 324.2L770.7 327.0L768.3 328.8L771.8 330.6L775.8 334.8L778.7 338.7L779.6 341.4M757.5 324.2L759.2 327.0L760.7 326.7L761.4 333.0L763.4 330.9L767.0 330.3L770.8 333.0L771.5 336.3L773.9 338.4L774.2 342.3M768.1 350.5L766.6 345.0L767.6 342.6L774.2 342.3L779.6 341.4M779.6 341.4L780.1 348.3L776.1 350.5L777.1 353.2L774.2 352.9L772.4 354.4M761.8 366.4L764.6 368.5L767.2 367.0M787.6 379.7L788.7 382.1L793.5 382.7L796.6 381.2L801.4 379.1L803.2 376.7L803.3 373.0L808.6 373.0M799.3 371.8L801.2 373.3L802.4 370.9M871.0 393.5L869.8 413.1M827.4 412.8L827.8 414.3M613.0 246.8L606.0 241.5L605.4 235.4L608.0 233.9L613.7 231.3L621.0 232.7L630.3 232.5L636.9 231.9L634.1 228.4L633.5 224.4L641.6 223.0L648.6 220.1L654.8 223.5L660.7 224.1L667.5 223.0L671.5 226.1L679.7 233.3L687.2 232.7L693.3 236.8L698.7 238.0M698.7 238.0L703.1 235.9L708.0 233.3L721.0 236.2L722.2 234.2L720.9 229.6L729.8 231.9L731.3 233.9L741.4 234.8L751.5 238.0L759.4 234.8L765.9 236.2M765.9 236.2L769.0 237.1L770.5 234.8L768.1 228.1L768.6 226.1L774.0 225.5L781.5 228.1L790.9 236.2L799.9 238.9L803.3 242.4L810.7 240.3L811.1 243.6L813.2 250.1L809.3 250.6L811.7 254.8L812.2 258.1M812.2 258.1L809.4 256.3L806.6 259.3L807.9 261.1L804.3 259.9L800.9 264.9M810.0 271.8L813.1 269.4M699.9 238.0L703.1 240.9L710.3 244.7L712.8 249.8L724.5 252.4L729.0 257.2L742.3 257.8L751.3 260.5L756.3 258.1L762.7 256.9L764.9 254.2L762.6 250.4L767.4 251.2L771.1 248.9L771.9 246.5L778.8 245.3L771.4 242.4L766.8 241.8L766.1 239.2L765.9 236.2M698.9 238.3L696.2 240.6L697.4 244.4L691.3 243.9L691.7 248.9L687.5 250.4L690.4 258.7L686.9 261.1L683.6 262.3L679.6 264.0L677.2 266.7L678.2 269.4L682.2 273.0L682.1 273.6M623.6 260.2L629.2 259.3L632.4 261.4L629.6 250.4L635.3 248.6M642.0 252.1L645.2 254.8L652.0 254.2L655.5 256.3L656.2 259.6L661.9 262.3L664.0 261.1L667.8 258.4L668.2 256.9L674.0 258.1L674.8 255.7L678.9 256.9L687.1 256.9L690.4 258.7M632.4 261.4L634.8 261.4L636.3 257.5L641.4 258.7L646.9 262.0L655.0 268.5L660.7 271.2L661.1 273.0M661.9 262.3L668.0 262.3L669.5 259.3M664.5 273.6L665.2 270.6L663.2 266.7L668.7 264.6L665.3 262.9L668.0 262.3L674.8 262.9L677.2 266.7" fill="none" stroke="#000" stroke-width="0.5" stroke-linejoin="round" stroke-linecap="round"/>
<path d="M278.9 245.3L283.6 242.7L287.8 241.2L291.2 238.9L294.3 239.7L296.8 242.1L296.2 245.6L293.5 245.3L290.4 245.9L287.5 244.4L283.4 245.6L278.9 245.3M282.6 260.2L285.6 259.9L288.4 254.8L292.1 250.4L294.1 248.3L290.7 248.0L286.6 250.4L285.5 251.8L285.5 254.8L282.6 260.2M295.3 247.7L299.4 247.1L302.8 247.4L305.1 250.6L302.7 251.8L299.2 255.4L297.2 256.3L297.8 253.3L295.3 254.2L297.3 250.4L295.3 247.7M293.3 260.2L297.4 258.4L302.5 257.5L305.2 256.9L303.5 258.1L299.1 260.2L295.2 261.1L293.3 260.2M303.8 255.4L308.8 253.6L313.1 253.0L312.4 254.8L308.1 255.4L303.8 255.4M274.8 225.0L277.2 224.7L275.2 232.7L272.6 234.5L273.0 229.9L274.8 225.0M246.5 190.5L255.6 188.4L260.7 190.3L252.4 193.7L247.9 193.2L246.5 190.5M249.7 204.5L259.6 200.4L268.5 199.6L263.1 202.3L255.0 204.5L249.7 204.5M607.7 248.6L611.8 245.9L616.8 245.0L621.3 245.9L622.2 249.5L618.2 249.8L618.5 251.8L616.4 252.1L620.1 255.7L623.5 257.8L624.4 261.4L627.6 261.7L625.6 263.8L626.2 266.4L628.7 268.8L630.0 273.6L625.5 275.1L621.0 273.3L617.1 270.0L616.5 266.7L617.1 263.8L613.8 259.9L610.6 256.3L609.6 251.8L607.7 248.6M634.2 245.9L640.2 245.9L642.7 250.4L638.7 253.3L635.0 250.4L634.2 245.9M733.0 231.0L736.5 230.4L739.3 226.1L738.5 219.3L737.2 219.8L737.2 224.7L735.2 228.4L733.0 231.0M670.8 248.9L675.5 245.6L682.7 245.9L678.3 246.8L673.7 250.4L670.8 248.9M580.6 387.2L583.8 384.8L586.5 385.7L586.5 389.3L583.8 393.2L581.1 393.2L580.6 387.2M573.9 395.9L574.9 400.8L577.7 408.3L578.2 411.9L576.4 408.3L573.8 402.3L573.9 395.9M586.1 414.6L587.6 418.8L588.2 424.9L588.8 428.8L587.3 426.4L586.5 420.3L586.1 414.6M531.4 345.6L533.5 345.0L534.6 346.5L533.0 347.4L531.4 345.6M528.7 403.8L530.5 403.2L533.2 400.8L536.7 398.7L538.5 396.2L539.9 391.7L543.4 387.5L544.7 384.8L546.6 382.1L550.5 380.0L554.5 379.4L558.0 381.2L561.2 383.6L563.1 384.2M734.3 177.0L735.5 182.0L737.7 187.9L742.5 192.4L749.0 195.0L756.4 196.1L762.7 198.5L766.7 200.4L767.1 202.3L762.3 204.5L753.8 205.6L744.2 206.7L736.9 208.9L732.0 212.8M762.4 198.2L768.4 199.0L774.7 200.1L779.8 202.3L780.7 205.0L781.3 206.7L780.5 209.2M751.8 195.8L745.7 196.9L738.0 197.4L732.2 198.2M361.6 388.1L357.7 390.2L350.5 392.9L345.7 392.6L340.4 395.3L336.4 395.0L329.8 397.1L324.0 395.9L317.8 394.1L310.2 398.4L305.9 397.4L301.4 396.8L298.0 399.3L294.0 400.2L290.0 399.3L288.2 401.7M306.7 353.5L307.9 355.6L307.0 358.0L305.2 357.1L305.9 354.4L306.7 353.5" fill="none" stroke="#000" stroke-width="1.3" stroke-linejoin="round" stroke-linecap="round"/>
<path d="M158.5 192.1L164.1 190.5L170.5 189.5L173.7 187.1L171.3 185.1L175.4 183.6L182.8 181.8L188.3 180.0L195.8 178.8L201.4 177.5L204.7 178.5L208.0 179.5L213.4 179.8L218.7 180.8L225.1 181.8L228.7 182.8L232.9 183.3L237.6 181.8L244.2 181.0L249.6 180.5L252.7 179.5L253.9 181.8L257.9 180.8L259.4 182.0L263.9 182.3L269.4 183.6L271.7 185.1L273.7 185.1L274.4 186.4L280.5 186.1L283.5 187.1L284.6 184.8L290.4 183.8L292.9 185.3L296.9 186.4L302.8 186.4L305.7 184.1L308.8 185.1L312.3 182.0L312.1 180.0L315.3 177.5L319.1 175.8L320.4 177.0L319.7 180.0L320.0 182.0L320.3 184.1L324.2 184.1L322.8 187.1L325.8 187.1L330.6 183.3L333.5 181.3L337.7 181.5L339.1 182.8L336.5 185.9L332.4 189.0L327.5 190.3L324.9 189.7L321.4 192.4L317.2 195.0L312.1 196.4L309.2 197.7L304.1 200.4L299.1 203.7L294.7 207.2L292.5 210.6L295.8 211.1L294.0 215.6L298.5 215.3L302.8 217.3L306.7 220.1L313.3 221.0L311.1 225.5L310.9 229.0L311.8 231.9L315.5 231.3L317.8 227.5L319.1 222.7L324.5 219.8L328.7 215.6L329.0 211.4L329.6 207.2L333.4 203.1L334.1 200.7L339.1 200.9L343.2 200.9L345.8 203.9L349.1 204.5L347.3 209.2L348.8 211.4L351.5 211.7L355.1 209.4L358.8 206.1L359.8 210.0L361.3 213.9L361.6 218.4L364.5 220.7L367.7 222.7L368.7 226.1L369.4 229.3L365.8 231.3L360.2 234.2L356.5 235.1L349.7 234.8L342.6 235.1L338.1 238.0L333.3 241.5L328.5 245.0L331.1 244.4L336.0 240.6L341.5 238.3L346.4 238.9L343.8 241.5L343.3 244.4L344.8 247.4L348.8 248.0L351.0 248.6L350.2 249.8L344.1 251.8L338.4 254.8L337.0 253.9L339.0 251.2L342.5 249.5L340.1 249.5L336.2 250.4L334.5 251.8L330.5 253.3L327.2 254.5L325.2 256.9L324.7 259.9L325.9 260.2L322.5 260.8L319.3 261.7L315.2 263.2L313.7 266.4L311.0 268.8L309.0 271.5L306.9 274.2L306.9 277.3L306.8 279.7L303.4 281.2L299.5 283.6L295.6 286.0L290.5 289.3L288.5 293.2L289.0 299.5L289.5 305.0L288.2 309.5L285.8 309.8L284.8 306.8L283.3 302.0L284.1 298.3L282.2 295.3L278.1 296.2L275.3 294.1L271.4 294.4L267.5 294.7L267.2 298.0L264.2 297.7L261.2 296.5L256.1 296.2L252.8 297.4L247.4 300.7L245.0 304.4L244.5 308.0L242.2 313.4L241.4 318.2L242.3 323.0L244.0 327.6L246.3 329.7L248.8 330.9L252.8 330.0L256.3 329.7L258.8 326.7L260.1 322.4L265.3 320.9L269.2 320.9L269.4 323.0L266.9 326.7L266.2 330.3L264.5 330.9L263.8 334.5L262.1 337.8L265.2 337.8L269.7 337.8L273.6 338.1L276.5 340.5L275.6 345.0L274.7 348.9L274.5 352.9L276.6 356.5L278.4 358.3L281.2 359.2L284.0 358.0L285.9 357.1L288.7 357.7L290.8 359.8L292.3 360.1L294.6 357.7L296.1 354.1L298.0 352.6L301.5 351.7L305.1 349.9L307.6 348.3L306.1 351.1L306.4 354.1L308.1 352.9L310.3 351.1L311.5 349.2L314.8 351.4L315.4 353.8L319.9 353.8L323.8 355.3L326.5 354.1L330.5 353.8L331.8 355.6L334.4 356.8L334.8 360.1L338.2 361.6L340.7 364.6L343.8 367.6L348.6 367.9L352.6 368.2L356.5 370.6L359.1 372.7L360.4 376.7L363.0 380.3L362.9 384.8L360.8 386.6L365.6 386.3L367.5 388.1L369.6 387.8L373.6 389.0L376.8 391.1L379.0 393.5L383.0 394.1L387.0 394.4L391.0 395.0L394.2 397.1L397.1 400.2L401.7 401.1L403.1 404.7L403.6 408.3L403.0 412.8L400.1 417.0L397.3 420.3L394.6 424.3L393.1 427.3L393.3 432.4L393.1 438.4L392.0 441.4L391.7 445.3L389.5 449.0L389.2 452.0L386.8 454.7L383.2 455.0L379.9 455.9L376.6 458.0L373.0 460.4L370.8 462.8L370.8 467.0L370.8 471.6L368.6 474.6L366.6 479.1L364.0 482.1L362.9 485.7L361.1 488.7L358.2 490.8L355.0 490.8L350.7 489.3L348.9 488.1L349.6 490.2L352.8 492.6L353.3 495.1L354.7 496.0L353.4 500.2L350.4 502.3L344.4 503.2L342.6 502.9L343.8 507.6L342.4 509.4L337.3 508.8L338.4 512.7L340.9 512.7L342.1 514.5L339.2 515.1L339.8 519.6L337.5 521.3L336.0 524.0L338.6 527.0L341.8 529.3L339.5 532.8L338.6 536.0L337.5 538.1L340.7 542.4L339.0 543.3L335.9 543.9L336.8 546.4L334.4 546.7L329.9 544.1L326.2 541.5L322.7 537.2L320.2 532.2L321.4 529.3L317.9 526.4L318.9 522.5L320.7 519.6L319.8 513.6L316.4 510.6L314.8 505.6L314.4 500.8L313.6 497.8L314.2 493.5L315.0 487.5L314.6 482.1L313.3 476.1L313.0 471.6L313.6 465.5L313.3 459.5L312.8 453.5L312.7 447.5L311.8 441.1L308.6 438.1L304.7 435.7L299.9 433.0L295.0 427.9L293.1 423.4L290.6 418.8L287.9 413.7L285.0 408.6L281.4 404.4L280.2 400.8L280.4 398.4L282.2 395.9L283.8 393.5L281.1 392.3L281.0 388.7L282.6 385.7L283.1 383.0L285.8 381.5L286.9 378.5L289.7 375.2L290.6 370.6L290.2 366.1L289.2 363.7L288.3 361.6L287.1 358.9L285.0 358.9L282.7 361.0L283.2 363.4L280.8 363.1L279.0 361.3L276.1 361.0L274.3 359.5L271.8 356.8L270.3 356.2L268.8 354.7L268.9 352.3L266.8 348.9L264.6 346.8L265.2 345.6L261.5 345.9L258.5 344.4L254.9 343.8L252.2 341.4L249.2 338.1L246.7 336.9L242.5 338.4L238.7 337.5L234.5 335.4L230.8 333.6L228.0 331.5L224.4 329.4L221.4 326.7L220.2 323.9L221.5 320.6L220.7 317.6L219.1 314.9L216.6 311.6L214.3 308.9L213.8 305.6L211.6 303.2L210.2 301.3L208.5 298.3L208.0 294.7L208.0 291.7L204.7 289.9L203.5 293.8L205.1 297.7L206.3 300.7L206.9 304.4L208.3 308.0L209.3 312.2L211.4 315.8L209.7 316.7L207.5 313.4L205.4 311.0L206.2 307.4L203.4 305.0L201.2 303.5L200.3 302.0L202.8 300.4L202.2 297.1L200.6 294.1L199.7 290.5L199.5 287.5L199.4 285.1L197.5 283.3L195.5 282.1L193.0 281.5L193.3 278.8L192.1 275.7L191.8 273.6L192.3 271.5L191.7 269.1L192.1 265.8L191.8 264.0L194.0 260.8L195.2 256.9L198.3 253.3L202.7 246.8L204.0 243.6L204.8 240.3L207.7 240.9L208.3 243.0L210.4 239.7L210.1 237.7L207.8 235.7L205.3 233.6L204.7 231.3L206.2 227.8L205.4 224.7L205.3 222.4L206.1 219.8L205.9 217.6L205.6 214.7L206.4 212.2L205.4 210.6L201.3 211.9L199.9 210.6L199.0 207.8L195.3 207.2L190.4 207.2L187.9 205.6L185.5 204.5L181.4 206.7L176.4 208.3L171.2 209.4L175.6 205.9L180.5 203.9L176.2 204.8L171.9 206.7L166.9 208.9L165.8 210.8L159.8 213.3L153.4 215.9L146.8 218.4L140.6 220.1L134.6 221.5L128.3 222.7L134.0 220.7L139.9 218.7L145.0 217.0L150.7 214.7L156.6 211.4L154.1 211.1L151.5 210.6L147.2 211.1L151.2 208.1L147.9 207.8L147.7 205.3L149.7 202.3L154.8 199.6L159.3 198.5L164.7 197.4L169.2 195.0L165.4 195.3L161.1 195.0L158.7 194.2L158.5 192.1M371.6 161.3L380.0 159.6L386.9 157.5L393.9 155.1L405.2 153.2L416.6 152.9L426.9 151.6L439.9 150.8L452.3 151.1L461.1 152.7L457.5 154.0L468.6 154.3L476.6 154.9L469.6 157.1L464.3 158.5L464.6 160.6L459.8 162.8L461.9 165.1L460.3 167.9L460.8 169.8L455.7 172.2L454.2 175.1L450.9 177.0L454.2 179.5L451.0 181.3L445.6 183.8L439.4 185.1L433.4 185.6L428.6 189.0L423.9 191.3L418.7 192.1L414.6 194.2L411.8 197.7L407.4 201.8L405.1 205.9L402.4 207.5L399.6 206.4L395.8 205.0L393.7 202.3L392.0 199.6L390.9 196.1L390.3 192.6L389.7 189.0L391.3 185.9L396.0 184.1L398.0 181.8L393.9 182.3L392.0 180.0L397.5 178.8L393.1 177.0L393.4 174.1L393.3 171.0L391.5 168.1L388.4 166.3L383.4 165.8L376.0 166.3L372.7 164.9L372.8 162.8L376.9 163.1L371.6 161.3M451.2 190.0L453.8 192.4L455.4 191.1L459.7 190.5L463.8 189.7L466.6 191.1L468.5 193.4L466.3 195.3L462.2 196.9L457.4 198.0L454.0 197.2L449.5 196.9L451.2 195.3L447.6 194.0L451.1 192.9L447.0 192.1L449.5 190.5L451.2 190.0M274.8 319.7L279.7 316.7L285.0 315.8L289.2 317.6L294.1 320.0L298.2 322.4L302.1 324.8L298.6 325.7L292.9 325.7L294.2 323.6L291.4 320.9L286.3 319.4L282.6 318.2L278.6 318.8L274.8 319.7M301.0 330.3L305.2 325.7L309.1 325.7L313.2 326.7L316.8 329.7L313.9 330.3L309.9 330.9L307.9 332.4L304.6 330.9L301.0 330.3M290.8 330.3L295.9 331.2L293.5 332.1L290.8 330.3M319.9 330.0L324.0 330.6L322.1 331.8L319.9 330.0M356.8 242.7L360.4 238.6L364.3 233.6L368.8 231.0L366.8 235.1L369.8 236.8L371.9 239.2L372.3 242.7L369.5 245.3L368.4 243.3L365.2 244.7L363.4 242.7L356.8 242.7M201.4 233.3L205.8 234.5L207.5 237.1L207.9 240.3L205.0 239.7L202.8 237.1L201.4 233.3M198.3 223.8L200.9 224.1L197.9 228.4L197.7 226.4L198.3 223.8M161.2 213.1L166.0 213.1L160.4 215.9L161.2 213.1M349.1 171.7L354.0 172.4L357.3 175.3L361.4 177.5L365.8 179.5L366.7 182.8L368.5 186.4L373.3 188.4L370.7 191.6L365.6 193.7L361.2 198.2L361.7 200.1L357.5 199.6L353.5 201.2L357.7 202.0L352.0 200.1L348.9 198.2L346.3 195.6L343.4 195.3L337.6 195.6L338.4 192.9L344.9 192.9L348.9 190.3L352.7 187.1L350.1 184.6L347.9 182.0L345.5 180.0L339.0 181.0L332.5 180.8L327.8 179.5L327.4 177.0L330.7 173.9L339.3 171.5L344.3 171.9L349.1 171.7M274.4 177.0L279.9 173.9L286.8 172.7L293.1 173.6L299.7 172.7L303.0 173.9L304.5 177.0L301.4 180.3L295.8 183.3L288.7 183.6L282.2 184.3L276.4 184.3L272.1 182.8L273.1 180.0L274.4 177.0M261.8 175.8L270.0 171.5L277.7 169.8L283.1 170.5L284.1 172.7L276.6 175.1L269.4 177.3L263.5 177.5L261.8 175.8M338.4 165.1L346.7 165.6L355.5 165.6L360.9 163.5L366.7 161.1L371.8 158.5L381.2 156.5L391.2 154.5L397.5 152.9L389.1 151.8L376.7 151.6L362.8 152.7L352.1 153.6L346.4 155.5L351.0 157.1L351.4 159.6L344.4 161.3L343.1 164.0L338.4 165.1M338.6 156.5L346.3 156.9L348.0 159.6L339.5 161.1L335.9 158.5L338.6 156.5M325.5 167.2L330.5 169.3L340.8 169.8L351.2 169.3L354.0 167.2L345.5 166.7L339.7 165.6L333.4 164.9L327.9 165.1L325.5 167.2M287.9 167.4L292.1 169.8L300.4 168.8L306.1 168.6L308.9 166.3L305.4 164.9L296.4 165.1L290.2 165.8L287.9 167.4M310.2 168.1L316.9 168.6L322.5 166.7L321.4 164.7L315.1 165.6L310.2 168.1M307.6 173.9L310.1 177.0L315.5 175.3L318.5 172.2L314.3 171.0L307.6 173.9M319.6 173.9L322.5 175.8L329.3 173.4L330.6 171.0L324.5 170.7L319.6 173.9M303.9 182.8L307.5 184.3L311.9 182.5L309.3 181.0L303.9 182.8M320.7 192.9L326.0 191.1L328.7 192.9L331.6 196.4L328.7 197.7L324.4 198.0L319.9 198.5L318.3 196.4L321.8 194.2L320.7 192.9M279.9 165.6L285.0 167.0L294.5 164.0L289.7 163.1L279.9 165.6M356.3 541.0L359.9 539.5L364.0 540.4L362.0 542.4L356.3 541.0M340.6 543.3L342.3 545.3L347.6 548.7L350.8 549.3L348.5 550.7L344.4 551.6L339.6 550.7L335.1 548.2L336.7 546.7L337.2 543.9L340.6 543.3M544.7 178.0L549.0 178.5L555.1 180.0L552.5 181.3L559.6 182.3L565.5 182.8L571.1 185.1L575.6 186.9L577.8 189.2L575.8 190.5L571.8 190.5L566.6 189.5L561.5 189.2L566.1 192.9L566.5 195.0L571.7 196.6L572.9 195.3L569.8 193.7L576.2 194.8L577.9 193.7L576.2 191.6L579.6 189.7L583.4 190.5L583.8 189.0L582.2 187.1L582.1 184.8L580.2 184.3L585.7 185.1L586.6 188.4L589.6 186.4L591.9 185.9L597.2 184.6L601.4 185.3L602.9 184.3L607.5 183.8L611.6 184.3L612.1 181.5L617.0 181.8L621.1 182.8L625.9 183.8L629.6 185.1L629.7 183.6L624.7 181.8L622.5 178.8L622.6 176.8L623.1 173.9L625.0 172.9L629.5 173.9L632.7 177.0L635.5 182.0L639.3 185.1L639.2 189.7L641.6 188.7L642.0 186.1L639.6 183.3L636.6 180.8L635.9 177.5L632.9 176.3L634.5 173.9L640.1 175.1L643.0 175.3L642.8 177.5L646.2 178.3L648.5 176.3L653.8 179.5L652.2 176.3L648.0 174.6L644.2 172.2L652.5 171.2L652.3 169.1L654.3 167.4L660.1 166.3L667.2 166.3L671.1 165.1L672.1 163.1L675.2 162.4L680.4 163.5L683.1 164.9L689.8 164.7L696.3 166.3L699.3 168.6L695.9 171.0L700.1 171.5L704.6 172.2L712.8 172.2L715.2 173.4L722.5 172.9L722.3 171.7L727.1 171.9L733.6 173.4L736.4 176.3L744.1 178.8L744.2 176.5L749.2 176.8L756.1 177.0L755.6 174.6L759.5 174.1L767.1 174.8L774.3 175.3L777.7 177.0L784.5 178.5L790.4 178.0L797.1 178.8L802.7 181.3L806.7 182.0L810.7 181.5L817.4 181.5L821.7 180.5L826.8 183.3L828.6 181.3L834.7 181.5L844.5 183.6M147.5 183.6L149.8 185.1L151.2 187.4L155.7 188.4L156.7 190.8L152.1 192.4L145.1 195.3L142.7 195.6L140.5 194.2L141.7 192.6L137.8 191.8L133.1 193.2M858.9 193.2L858.4 194.8L856.0 194.5L864.7 198.5L868.3 200.7L863.9 201.8L859.4 202.3L858.4 204.8L857.9 207.2L852.0 206.4L848.8 207.2L847.2 208.6L848.2 212.2L850.6 214.7L854.6 217.6L854.5 219.8L856.1 221.8L854.5 224.1L854.2 227.3L855.8 231.3L855.3 232.7L850.4 228.4L843.2 222.7L837.6 217.0L836.5 213.3L837.1 210.0L838.2 206.4L838.5 203.1L836.2 200.4L835.7 202.6L832.4 203.7L833.0 205.0L824.5 202.8L824.8 206.7L825.8 208.9L822.1 210.0L816.0 208.3L812.3 208.9L806.2 209.2L801.1 209.4L800.2 212.8L800.1 216.2L800.0 219.5L797.4 222.1L804.6 224.7L808.5 224.1L814.4 226.4L817.1 229.3L818.2 232.7L822.7 238.6L823.2 242.4L822.5 246.5L821.9 250.9L820.8 254.8L817.3 256.9L813.3 256.3L812.7 258.1L811.8 260.8L812.5 262.9L809.9 265.2L809.8 267.3L813.5 269.7L817.7 273.9L819.8 278.5L818.5 280.6L815.2 281.8L813.5 281.8L812.3 278.5L811.4 274.8L809.2 272.1L805.8 271.8L805.3 269.1L804.1 266.7L800.8 265.2L798.3 266.4L795.6 268.5L794.7 266.1L794.8 263.5L791.4 262.6L789.4 265.8L786.5 267.6L786.8 269.7L790.6 272.1L792.5 273.6L795.4 271.8L800.2 273.0L800.4 274.5L797.2 277.0L795.0 279.7L798.8 282.7L801.6 286.9L805.6 290.2L806.2 292.6L804.2 294.1L807.8 295.6L808.3 299.8L806.6 303.8L805.3 308.6L802.6 311.9L799.9 315.2L796.5 317.3L793.3 318.5L790.3 319.4L786.7 320.9L784.2 321.5L784.1 324.5L782.3 321.2L778.8 320.3L775.2 322.4L773.1 325.7L772.8 328.8L775.4 332.1L779.2 336.3L782.8 339.6L784.5 345.0L784.8 350.5L781.9 353.5L778.8 354.4L778.5 357.1L774.4 359.8L773.9 355.9L772.7 354.4L769.5 353.5L768.1 350.5L766.2 348.9L762.8 347.4L762.3 345.0L760.0 345.3L760.4 349.5L758.9 353.8L759.2 357.7L761.7 360.4L762.7 363.7L765.5 364.9L767.7 367.0L770.5 370.9L771.2 376.7L773.2 381.5L771.1 381.5L765.7 377.3L763.4 373.0L762.5 369.1L761.8 366.1L759.8 363.4L756.8 361.6L756.8 357.1L756.9 352.6L756.8 348.0L755.0 343.5L753.2 339.0L752.6 336.0L750.3 334.5L747.3 338.1L744.1 337.5L744.0 333.0L743.0 329.1L740.5 326.1L737.5 323.3L735.8 320.9L734.9 318.2L731.5 317.9L727.9 320.0L722.8 321.2L722.7 323.9L719.6 326.7L716.2 330.6L712.2 335.1L709.1 337.8L707.3 340.5L707.7 345.0L707.2 349.5L707.3 354.7L705.4 357.7L703.3 359.2L701.6 361.3L698.8 358.6L696.6 352.0L693.9 347.1L692.4 342.0L689.4 337.5L687.4 331.5L686.5 327.9L685.7 322.4L685.0 318.8L683.8 321.8L680.8 323.0L675.7 318.8L678.8 316.7L674.8 315.8L672.5 314.3L670.8 312.5L669.0 310.7L668.0 309.2L662.9 309.5L656.5 309.8L651.3 309.5L646.0 308.6L643.0 305.0L641.0 304.1L636.6 305.6L632.6 304.4L628.4 301.7L625.8 297.4L623.7 294.7L620.8 294.1L618.7 295.9L619.0 298.3L621.2 301.3L624.1 305.0L625.6 306.8L627.2 309.8L627.4 308.6L628.5 307.1L629.6 310.4L629.0 312.5L632.2 312.8L636.1 312.8L639.1 309.5L640.9 307.1L641.6 306.5L642.0 310.4L643.3 312.8L647.1 314.3L651.6 317.9L649.6 323.9L647.3 328.5L646.0 328.8L644.2 331.5L640.9 333.0L637.8 334.5L633.3 336.9L627.7 340.5L623.9 343.5L618.8 345.3L614.9 347.1L610.9 347.4L610.1 345.6L609.4 342.0L608.3 337.5L606.8 333.0L603.9 329.1L600.5 324.5L597.9 320.9L596.0 314.9L592.3 310.4L588.8 305.3L586.5 301.3L585.3 296.8L584.2 301.7L582.0 299.8L579.3 295.3L579.5 297.4L582.1 302.0L584.6 307.4L588.1 313.4L592.1 319.4L593.4 323.9L594.2 329.1L597.2 331.5L599.4 338.1L601.4 340.5L604.6 342.6L608.2 346.5L610.4 348.3L610.3 350.8L612.5 354.1L616.4 353.5L620.4 352.0L625.6 351.7L631.4 349.9L631.3 354.1L629.4 360.1L626.1 366.7L622.3 373.6L618.4 378.5L613.1 382.7L607.7 388.7L605.1 392.6L602.4 396.2L601.0 400.2L599.6 405.3L600.8 409.8L601.4 415.8L603.2 418.8L603.1 427.9L601.8 433.9L595.7 438.4L591.6 442.3L587.5 446.0L588.2 452.0L588.1 458.0L581.3 462.5L580.4 468.5L578.0 473.1L575.2 476.1L572.3 480.6L568.1 484.5L564.1 487.2L560.5 488.1L555.2 488.4L551.4 488.7L546.2 490.5L542.5 489.0L542.3 484.2L542.3 480.6L539.9 476.1L538.3 471.9L535.4 467.0L534.6 461.0L533.7 454.4L531.2 449.0L528.7 442.3L527.0 436.9L527.6 430.9L529.8 424.9L532.3 418.8L531.3 412.8L529.2 405.3L528.4 403.2L527.4 399.3L525.2 397.1L521.3 392.6L519.9 388.1L521.3 384.2L521.3 379.7L522.1 376.1L521.3 374.0L519.4 372.1L514.6 372.4L511.9 372.7L509.3 369.1L507.7 366.7L502.6 366.7L498.7 367.9L494.7 369.4L490.7 371.2L487.5 370.3L482.7 370.3L476.1 372.4L472.1 370.6L467.3 366.7L465.5 364.9L462.8 363.1L461.0 360.1L460.8 357.1L457.6 354.1L456.3 352.6L453.7 350.2L451.9 348.0L451.7 345.3L449.9 341.4L452.6 337.5L453.3 331.5L453.6 327.0L452.9 323.0L451.6 322.4L452.3 318.5L454.5 314.0L457.1 311.0L458.6 306.8L461.8 302.3L465.2 301.0L469.9 297.4L471.3 293.8L471.1 290.8L473.2 286.9L477.1 284.2L479.7 281.8L481.2 277.9L482.8 277.6L484.7 279.7L488.5 279.4L491.0 280.0L493.5 278.2L496.5 277.3L499.7 275.7L503.5 274.8L508.4 274.8L513.4 274.2L518.4 273.6L520.8 273.3L523.4 274.2L522.2 276.0L522.5 278.8L523.7 281.8L521.4 283.3L523.2 284.5L525.1 285.7L528.9 286.6L534.5 288.1L535.4 290.8L540.6 292.6L545.3 294.4L546.9 292.3L547.2 288.4L550.4 286.6L554.2 287.5L559.5 290.2L564.7 291.4L569.9 292.6L572.3 291.4L574.8 290.5L577.9 291.4L581.3 292.0L583.2 291.4L584.2 288.7L584.5 286.3L585.4 283.3L585.9 279.4L585.9 276.6L586.1 274.8L583.2 275.4L580.4 276.6L577.2 277.0L573.2 274.8L572.1 276.3L569.6 276.6L566.5 275.1L564.4 274.2L563.4 271.2L561.5 269.7L562.0 267.3L560.4 266.7L560.5 264.9L563.3 264.0L566.9 263.5L567.2 262.0L571.6 261.7L576.1 259.3L580.9 259.3L584.9 261.4L590.0 262.6L593.6 262.3L597.0 260.8L596.7 257.8L592.2 254.8L588.1 252.1L585.0 250.4L586.7 246.8L588.5 244.2L585.5 244.2L582.2 245.3L578.9 246.8L580.0 249.2L582.9 249.8L580.7 250.4L577.4 252.1L576.1 251.5L573.3 249.2L575.6 247.1L571.7 246.5L569.2 245.6L567.2 248.0L566.5 249.8L564.9 253.3L563.6 256.3L563.0 257.8L563.9 259.3L564.6 260.8L566.7 261.7L564.3 262.3L562.0 263.2L560.2 264.3L559.5 262.9L555.8 262.6L554.3 264.3L555.6 264.9L552.3 264.3L551.5 263.8L551.5 265.8L553.1 267.6L552.7 268.8L555.4 271.2L555.5 272.1L553.5 271.2L553.1 272.7L553.8 275.7L552.1 275.7L550.7 274.2L548.9 272.7L548.7 270.3L547.3 268.2L545.6 266.4L543.5 263.8L543.4 260.2L540.8 257.8L537.0 256.0L533.2 253.3L530.5 249.8L528.6 248.6L525.3 249.5L525.5 252.4L528.5 254.5L530.4 258.1L534.8 259.6L535.0 261.1L540.0 263.8L541.3 264.9L537.6 263.8L536.8 266.1L538.1 268.2L536.8 270.3L534.9 271.2L535.4 268.2L534.5 265.2L531.4 263.2L527.7 261.4L525.6 259.9L522.6 257.8L520.8 254.8L519.5 253.0L517.1 252.1L514.0 253.9L511.7 255.7L508.0 255.1L505.6 254.8L503.7 255.7L503.5 258.1L503.8 259.6L501.4 261.1L498.0 262.9L495.3 266.7L496.5 268.8L494.8 270.3L494.3 272.4L491.5 273.6L490.0 274.8L485.0 275.1L482.5 277.0L480.3 275.4L478.6 273.6L476.1 274.2L473.9 274.2L474.3 269.7L472.6 268.8L473.9 265.2L474.8 260.8L474.2 257.5L473.8 255.7L476.8 254.2L481.6 254.5L486.4 255.1L491.7 255.1L493.1 251.8L493.2 248.3L493.2 246.8L490.8 244.2L489.4 243.0L485.5 241.8L484.8 240.3L489.0 239.2L492.3 239.5L491.8 236.5L493.7 237.4L496.5 237.1L499.5 235.4L499.7 233.0L502.9 231.9L505.1 229.9L506.6 227.0L508.4 226.1L511.7 225.5L514.6 224.7L515.7 223.5L515.1 220.7L514.1 218.4L513.9 215.6L516.7 215.0L519.0 213.6L518.8 217.0L520.0 217.8L518.1 219.8L517.8 221.2L518.3 222.7L520.6 224.1L522.8 223.5L526.1 223.0L528.1 224.4L531.8 223.2L536.1 221.8L537.8 223.0L540.2 223.0L540.5 221.5L542.5 220.4L542.2 217.8L542.1 215.6L543.1 213.9L545.1 213.6L547.3 215.6L549.0 215.0L548.7 211.9L546.5 210.8L546.3 209.4L549.4 208.6L553.6 208.6L556.1 208.1L560.2 207.5L557.5 206.7L556.2 205.6L553.1 205.9L549.0 206.7L544.9 207.5L542.6 206.1L541.0 204.5L540.6 200.4L539.7 198.5L542.1 196.9L544.6 194.2L547.1 193.4L545.2 191.8L544.1 191.6L540.7 191.6L539.4 193.2L538.8 195.6L538.0 197.2L535.1 198.5L532.9 200.4L532.2 202.6L532.3 205.3L535.2 206.7L536.3 208.1L534.7 209.2L532.6 211.1L532.0 213.3L531.9 216.7L530.8 218.1L527.9 218.4L527.4 220.1L524.6 220.1L523.7 217.8L522.1 214.2L520.3 210.6L518.9 208.9L518.5 207.5L518.2 209.2L516.4 210.3L513.7 212.5L511.2 212.8L508.3 210.8L507.1 208.6L506.8 205.9L506.5 203.1L507.0 201.2L509.4 199.6L512.4 198.0L516.5 196.9L517.3 195.0L519.8 193.2L521.1 190.5L523.6 187.9L525.4 185.9L528.1 184.3L530.6 182.0L533.3 180.8L537.0 180.3L540.6 179.0L544.7 178.0M626.3 421.9L629.0 431.8L626.9 435.4L625.9 438.4L623.6 446.0L620.3 455.0L617.7 461.0L612.9 462.5L609.9 461.0L608.7 453.5L611.8 446.0L611.5 438.4L614.4 433.9L618.4 432.4L622.7 426.4L626.3 421.9M482.8 235.4L487.9 234.8L493.2 233.6L499.0 232.2L497.8 231.3L499.9 228.1L496.7 227.0L496.0 225.0L493.3 222.4L492.5 219.8L489.4 218.4L491.2 216.2L491.7 213.6L487.3 213.9L489.1 211.1L485.2 211.1L483.4 214.2L483.9 217.0L483.8 219.8L485.3 221.8L488.2 221.5L489.3 224.7L488.8 226.1L485.9 226.4L485.8 229.0L484.1 230.4L488.0 231.6L489.1 231.9L486.1 232.7L482.8 235.4M482.4 229.3L482.0 226.1L483.1 222.7L481.6 220.7L477.8 220.7L477.0 223.0L473.6 223.5L473.9 226.1L474.5 228.1L472.5 230.1L474.3 231.3L477.8 230.4L482.4 229.3M840.5 261.1L845.1 266.7L844.8 270.6L846.6 274.5L848.2 278.2L846.7 280.3L844.4 281.2L840.2 281.5L840.1 282.4L838.7 284.8L835.9 282.4L831.7 282.1L828.6 283.6L825.9 283.3L825.3 281.8L827.8 279.1L831.5 278.8L835.8 278.5L836.3 274.8L836.8 272.7L839.9 273.0L840.6 269.7L839.7 265.8L838.3 263.5L839.6 261.7L840.5 261.1M837.1 260.8L839.0 259.9L837.2 257.8L843.7 259.3L846.5 255.4L843.9 252.7L838.1 251.8L833.4 249.2L834.9 251.8L836.4 255.4L834.5 256.3L835.1 258.7L837.1 260.8M825.8 283.6L829.0 285.7L829.9 289.9L828.7 292.0L826.4 289.3L823.9 286.3L825.8 283.6M829.7 283.3L834.5 282.7L834.9 284.8L832.5 286.9L830.4 285.4L829.7 283.3M814.7 223.0L820.7 228.4L824.6 232.7L829.3 237.1L832.0 238.6L828.1 238.0L830.5 242.4L834.5 245.0L835.5 246.8L832.3 245.3L832.6 247.4L829.5 243.0L826.7 238.6L821.8 232.7L818.0 229.0L815.4 225.5L814.7 223.0M749.2 368.8L755.1 370.0L758.4 374.3L763.1 378.8L766.8 380.6L771.4 384.2L772.2 388.7L774.0 391.7L777.9 394.7L777.3 403.2L773.9 403.2L769.8 399.3L765.9 394.7L762.9 388.7L759.4 384.8L758.0 380.3L753.9 375.8L749.8 371.2L749.2 368.8M775.3 406.2L778.9 403.8L784.1 405.6L790.2 405.0L795.2 406.5L799.8 409.2L799.3 411.9L793.1 410.7L786.5 409.2L781.2 408.9L778.4 408.0L775.3 406.2M801.0 410.4L805.5 410.7L803.5 412.5L800.9 411.9L801.0 410.4M806.3 411.0L811.6 410.7L816.9 411.0L822.2 410.7L821.6 412.2L814.2 412.2L806.2 412.8L806.3 411.0M823.1 416.7L827.4 412.8L833.4 411.0L831.3 413.7L825.7 416.4L823.1 416.7M811.3 414.3L816.0 415.2L813.8 416.7L811.3 414.3M786.0 381.2L787.6 379.7L792.0 378.2L796.5 376.1L800.3 371.2L804.0 365.5L806.6 364.6L808.6 367.0L812.2 370.0L809.7 372.7L809.3 376.7L812.1 382.1L809.4 383.3L808.6 388.1L805.9 391.1L804.4 396.5L800.9 398.1L796.5 395.3L792.5 395.6L789.1 394.1L788.7 389.6L786.0 386.6L786.0 381.2M814.8 383.3L817.7 381.8L823.3 383.0L828.5 380.6L826.8 384.5L819.3 384.2L815.3 388.1L819.3 388.7L824.1 388.4L820.0 391.4L822.5 397.8L820.8 400.2L818.9 400.2L817.8 394.1L815.9 394.7L815.9 402.3L813.5 402.3L813.7 396.2L812.0 394.1L814.5 387.2L814.8 383.3M835.2 379.7L838.4 381.2L836.6 384.2L837.9 388.1L836.1 385.7L835.2 379.7M836.4 394.7L843.8 395.6L840.3 396.2L836.4 395.9L836.4 394.7M844.6 388.1L849.9 387.2L853.1 388.7L853.7 394.1L856.3 395.6L860.5 391.1L865.8 391.7L871.0 393.5L877.6 396.2L881.4 399.3L883.9 402.3L887.8 403.8L888.3 406.8L889.4 410.4L892.3 413.4L895.3 416.7L891.9 417.0L886.7 415.8L883.2 411.3L879.4 408.6L876.0 411.3L873.7 413.4L869.8 413.1L866.1 410.1L862.6 410.7L864.4 407.4L862.6 402.3L857.5 399.6L852.3 397.4L849.0 397.8L847.1 394.4L851.1 393.2L847.1 391.7L844.6 388.1M890.0 402.6L895.8 402.3L900.6 398.4L899.9 401.7L895.7 404.4L890.0 402.6M897.1 393.5L901.4 397.1L902.6 399.9L900.6 397.8L897.1 393.5M924.5 446.6L929.8 451.4L930.7 453.2L927.3 451.1L924.5 446.6M811.8 330.0L816.2 330.0L817.5 336.0L815.9 339.0L817.8 343.5L823.2 344.1L823.6 347.7L819.3 345.0L815.3 344.1L812.8 341.1L811.6 336.9L811.8 330.0M819.9 364.6L823.5 359.8L828.5 356.2L831.6 361.6L831.1 366.7L829.1 367.6L828.6 364.6L825.3 366.1L823.7 362.8L819.9 364.6M824.5 348.0L827.7 348.3L828.7 352.6L827.1 355.6L825.5 352.6L824.5 348.0M806.8 360.1L812.2 351.7L810.0 357.1L806.8 360.1M818.6 350.2L821.9 351.1L822.8 358.0L820.5 356.2L819.0 354.1L818.6 350.2M813.8 345.0L816.8 345.9L816.4 348.9L813.8 345.0M810.5 309.8L812.0 311.9L810.9 317.9L808.5 316.4L807.9 313.4L809.3 310.4L810.5 309.8M780.5 327.6L783.5 325.4L786.3 326.7L784.3 330.3L780.8 330.0L780.5 327.6M707.9 356.2L711.3 360.1L713.1 363.7L711.9 366.7L709.0 367.6L707.8 364.6L707.6 360.1L707.9 356.2M930.3 489.3L932.7 492.0L933.5 495.7L932.6 499.0L937.6 499.0L938.6 499.3L933.8 503.8L931.2 504.7L928.5 507.6L922.3 510.9L921.5 510.0L925.2 506.8L923.7 504.1L928.2 500.8L930.1 497.2L930.0 491.1L930.3 489.3M918.5 507.6L920.3 510.0L918.2 512.1L911.8 516.6L906.2 519.0L901.1 523.7L896.3 525.8L893.5 525.8L890.7 524.0L894.3 521.0L900.2 518.1L907.4 515.1L912.6 511.5L918.5 507.6M849.6 508.2L853.2 509.4L858.0 508.8L855.6 512.1L852.2 515.7L848.3 516.9L847.6 513.6L849.6 508.2M791.9 453.5L793.6 451.4L798.8 448.4L805.6 446.9L812.5 444.7L816.7 439.9L817.0 436.9L820.2 437.8L821.6 434.5L825.3 430.9L829.7 427.9L833.3 430.3L837.2 430.6L838.6 426.4L841.7 423.1L846.3 421.9L847.3 420.0L852.9 422.5L857.6 422.5L855.0 426.4L853.1 430.3L855.9 433.6L861.2 436.3L865.6 438.4L868.8 430.9L870.3 424.3L872.4 418.5L875.2 423.4L875.1 429.1L878.8 430.9L879.0 436.9L879.2 442.3L882.8 446.0L885.2 450.5L888.1 455.0L890.0 459.5L892.2 462.5L890.0 468.5L890.0 472.2L886.2 477.6L882.7 482.7L877.4 487.5L871.6 493.5L868.6 498.1L862.7 499.9L856.6 503.2L854.6 501.1L851.8 501.7L847.0 501.4L843.9 500.2L843.5 497.2L844.4 493.2L841.8 492.9L843.7 490.5L844.4 485.1L841.6 489.6L838.8 492.0L837.4 490.5L836.3 490.2L835.3 485.1L834.5 482.7L829.5 480.6L823.7 481.2L815.4 483.0L809.5 485.1L807.2 487.8L802.1 487.8L796.5 489.3L792.0 491.1L787.2 490.5L785.3 489.0L789.6 482.1L789.3 477.6L789.8 471.6L789.4 465.5L789.9 461.0L792.1 456.5L791.9 453.5M592.7 177.0L597.3 178.8L605.0 179.0L599.8 174.6L597.8 171.0L602.7 167.4L611.6 165.1L615.9 164.0L610.7 164.0L601.4 165.6L595.9 167.9L594.8 172.2L593.0 175.8L592.7 177.0M514.3 158.5L520.9 157.9L525.8 157.7L531.3 159.6L528.2 160.6L532.6 161.1L527.9 162.8L524.8 164.9L520.1 162.8L514.6 160.6L514.3 158.5M526.5 157.1L533.8 156.7L540.6 157.3L536.1 158.9L529.2 158.1L526.5 157.1M532.8 161.7L537.2 162.2L534.9 163.3L532.8 161.7M655.5 159.3L658.0 157.5L664.1 158.9L670.9 159.6L674.6 161.1L670.6 162.0L665.5 161.3L659.6 160.0L655.5 159.3M646.5 157.5L651.6 155.1L655.9 156.5L651.9 157.9L646.5 157.5M740.3 167.9L743.1 166.3L751.3 167.0L761.7 167.9L765.5 169.1L757.9 168.8L751.1 169.1L746.1 169.3L740.3 167.9M752.5 172.4L759.3 172.7L753.8 171.5L752.5 172.4M527.0 271.2L534.6 270.6L533.6 275.1L527.0 272.4L527.0 271.2M516.0 262.3L519.7 262.3L519.6 267.6L516.7 268.2L516.0 262.3M516.8 257.8L518.9 256.3L518.9 260.8L517.2 260.8L516.8 257.8M554.8 278.8L561.9 279.7L556.2 280.6L554.8 278.8M577.0 280.3L582.3 278.5L580.2 281.5L577.0 280.3M190.0 610.3L207.8 610.8L222.5 609.7L228.0 608.1L233.3 606.3L238.5 604.2L245.9 603.3L252.7 601.9L260.4 600.9L267.6 599.5L277.3 599.9L287.0 600.4L297.2 601.4L306.8 601.9L310.1 599.9L311.3 597.5L320.1 597.1L329.3 597.1L339.4 598.0L348.3 597.5L353.3 594.4L356.9 591.4L361.4 589.4L364.1 587.6L364.2 584.3L366.0 580.3L369.4 577.2L373.2 574.5L377.7 573.2L379.0 576.1L374.3 579.0L372.6 581.7L371.7 585.5L378.9 588.1L381.7 593.1L384.0 598.0L385.9 601.6L393.6 605.1L406.1 608.1L419.1 609.7L431.0 609.7L437.2 608.1L446.6 605.1L449.4 602.8L459.4 599.2L468.0 595.6L475.1 592.1L484.6 591.6L496.0 590.1L505.6 590.6L515.1 590.4L524.8 589.9L534.3 590.4L543.8 590.6L553.8 588.9L560.1 587.1L567.6 588.1L573.9 586.6L580.3 585.0L588.7 583.7L595.6 581.4L604.1 580.1L609.3 581.9L614.3 583.7L623.8 584.5L631.0 585.5L631.4 588.1L634.0 590.1L640.4 589.1L645.3 587.6L651.5 584.3L657.5 581.1L665.7 580.9L671.6 580.9L680.0 580.3L685.6 580.9L696.9 579.3L707.2 579.0L716.5 579.8L723.0 579.3L725.5 580.9L735.0 581.4L745.8 580.6L756.3 580.1L766.3 580.1L774.5 581.7L779.3 582.7L783.0 584.5L788.5 586.3L795.9 588.1L802.0 590.6L805.8 591.9L812.3 592.6L816.2 594.4L808.2 598.0L795.5 601.6L785.4 605.1L777.8 608.6L780.5 610.1L788.6 610.3L802.0 610.3M88.4 324.8L90.7 326.1L88.6 328.5L88.0 326.7L88.4 324.8" fill="none" stroke="#000" stroke-width="1.5" stroke-linejoin="round" stroke-linecap="round"/></g>
<path d="M750.9 142.8 L761.8 145.8 L774.5 150.1 L788.7 155.5 L803.7 161.7 L818.5 168.6 L831.9 175.8 L844.3 183.3 L856.1 191.1 L867.5 199.0 L878.5 207.2 L889.2 215.6 L899.3 224.1 L908.8 232.7 L917.4 241.5 L925.3 250.4 L932.8 259.3 L939.6 268.2 L945.7 277.3 L951.1 286.3 L955.8 295.3 L959.8 304.4 L963.1 313.4 L965.7 322.4 L968.1 331.5 L970.2 340.5 L971.9 349.5 L973.2 358.6 L974.1 367.6 L974.7 376.7 L975.0 385.7 L974.7 394.7 L974.1 403.8 L973.2 412.8 L971.9 421.9 L970.2 430.9 L968.1 439.9 L965.7 449.0 L963.1 458.0 L959.8 467.0 L955.8 476.1 L951.1 485.1 L945.7 494.1 L939.6 503.2 L932.8 512.1 L925.3 521.0 L917.4 529.9 L908.8 538.7 L899.3 547.3 L889.2 555.8 L878.5 564.2 L867.5 572.4 L856.1 580.3 L844.3 588.1 L831.9 595.6 L818.5 602.8 L803.7 609.7 L788.7 615.9 L774.5 621.3 L761.8 625.6 L750.9 628.6 L241.1 628.6 L230.2 625.6 L217.5 621.3 L203.3 615.9 L188.3 609.7 L173.5 602.8 L160.1 595.6 L147.7 588.1 L135.9 580.3 L124.5 572.4 L113.5 564.2 L102.8 555.8 L92.7 547.3 L83.2 538.7 L74.6 529.9 L66.7 521.0 L59.2 512.1 L52.4 503.2 L46.3 494.1 L40.9 485.1 L36.2 476.1 L32.2 467.0 L28.9 458.0 L26.3 449.0 L23.9 439.9 L21.8 430.9 L20.1 421.9 L18.8 412.8 L17.9 403.8 L17.3 394.7 L17.0 385.7 L17.3 376.7 L17.9 367.6 L18.8 358.6 L20.1 349.5 L21.8 340.5 L23.9 331.5 L26.3 322.4 L28.9 313.4 L32.2 304.4 L36.2 295.3 L40.9 286.3 L46.3 277.3 L52.4 268.2 L59.2 259.3 L66.7 250.4 L74.6 241.5 L83.2 232.7 L92.7 224.1 L102.8 215.6 L113.5 207.2 L124.5 199.0 L135.9 191.1 L147.7 183.3 L160.1 175.8 L173.5 168.6 L188.3 161.7 L203.3 155.5 L217.5 150.1 L230.2 145.8 L241.1 142.8Z" fill="none" stroke="#222" stroke-width="1.3"/>
<rect x="106.70" y="654.8" width="39.34" height="17.8" fill="#1212cc"/>
<rect x="145.64" y="654.8" width="39.34" height="17.8" fill="#2626d1"/>
<rect x="184.58" y="654.8" width="39.34" height="17.8" fill="#3a3ad7"/>
<rect x="223.52" y="654.8" width="39.34" height="17.8" fill="#4f4fdc"/>
<rect x="262.46" y="654.8" width="39.34" height="17.8" fill="#6363e1"/>
<rect x="301.40" y="654.8" width="39.34" height="17.8" fill="#7777e7"/>
<rect x="340.34" y="654.8" width="39.34" height="17.8" fill="#8b8bec"/>
<rect x="379.28" y="654.8" width="39.34" height="17.8" fill="#a0a0f1"/>
<rect x="418.22" y="654.8" width="39.34" height="17.8" fill="#b4b4f7"/>
<rect x="457.16" y="654.8" width="39.34" height="17.8" fill="#c8c8fc"/>
<rect x="496.10" y="654.8" width="39.34" height="17.8" fill="#fcc8c8"/>
<rect x="535.04" y="654.8" width="39.34" height="17.8" fill="#f6b3b3"/>
<rect x="573.98" y="654.8" width="39.34" height="17.8" fill="#f19f9f"/>
<rect x="612.92" y="654.8" width="39.34" height="17.8" fill="#eb8a8a"/>
<rect x="651.86" y="654.8" width="39.34" height="17.8" fill="#e67575"/>
<rect x="690.80" y="654.8" width="39.34" height="17.8" fill="#e06161"/>
<rect x="729.74" y="654.8" width="39.34" height="17.8" fill="#db4c4c"/>
<rect x="768.68" y="654.8" width="39.34" height="17.8" fill="#d53737"/>
<rect x="807.62" y="654.8" width="39.34" height="17.8" fill="#d02323"/>
<rect x="846.56" y="654.8" width="39.34" height="17.8" fill="#ca0e0e"/>
<path d="M106.7 654.8L70.2 663.7L106.7 672.6Z" fill="#00007d" stroke="#000" stroke-width="1.5" stroke-linejoin="miter"/>
<path d="M885.5 654.8L921.0 663.7L885.5 672.6Z" fill="#670303" stroke="#000" stroke-width="1.5" stroke-linejoin="miter"/>
<rect x="106.7" y="654.8" width="778.8" height="17.8" fill="none" stroke="#000" stroke-width="1.5"/>
<path d="M106.7 672.6V679.8" stroke="#333" stroke-width="0.9"/>
<path d="M184.6 672.6V679.8" stroke="#333" stroke-width="0.9"/>
<path d="M262.5 672.6V679.8" stroke="#333" stroke-width="0.9"/>
<path d="M340.3 672.6V679.8" stroke="#333" stroke-width="0.9"/>
<path d="M418.2 672.6V679.8" stroke="#333" stroke-width="0.9"/>
<path d="M496.1 672.6V679.8" stroke="#333" stroke-width="0.9"/>
<path d="M574.0 672.6V679.8" stroke="#333" stroke-width="0.9"/>
<path d="M651.9 672.6V679.8" stroke="#333" stroke-width="0.9"/>
<path d="M729.7 672.6V679.8" stroke="#333" stroke-width="0.9"/>
<path d="M807.6 672.6V679.8" stroke="#333" stroke-width="0.9"/>
<path d="M885.5 672.6V679.8" stroke="#333" stroke-width="0.9"/>
</svg>
<div class="t" id="t1" style="left:3.6px;top:44.41px;font-size:30.2px;transform-origin:0 25.56px;transform:scaleY(1.043);">Land &amp; Ocean Temperature Departure from Average Dec 2019&#8722;Feb 2020</div>
<div class="t" id="t2" style="left:0;width:999px;text-align:center;top:82.42px;font-size:24.9px;transform-origin:0 21.08px;transform:scaleY(1.043);">(with respect to a 1981&#8722;2010 base period)</div>
<div class="t" id="t3" style="left:0;width:997.6px;text-align:center;top:117.97px;font-size:18.7px;transform-origin:0 15.83px;transform:scaleY(1.043);">Data Source: NOAAGlobalTemp v5.0.0&#8722;20200308</div>
<div class="t" id="t4" style="left:0;width:992.6px;text-align:center;top:714.03px;font-size:18.75px;transform-origin:0 15.87px;transform:scaleY(1.043);">Degrees Celsius</div>
<div class="t" id="t5" style="left:66.6px;top:718.65px;font-size:12.7px;transform-origin:0 10.75px;transform:scaleY(1.043);">National Centers for Environmental Information</div>
<div class="t" id="t6" style="left:83.2px;top:736.55px;font-size:12.7px;transform-origin:0 10.75px;transform:scaleY(1.043);">GHCNM v4.0.1.20200307.qfe</div>
<div class="t" id="t7" style="left:704.8px;top:718.65px;font-size:12.7px;transform-origin:0 10.75px;transform:scaleY(1.043);">Please Note: Gray areas represent missing data</div>
<div class="t" id="t8" style="left:704.8px;top:736.55px;font-size:12.7px;transform-origin:0 10.75px;transform:scaleY(1.043);">Map Projection: Robinson</div>
<div class="tk" style="left:106.7px">&#8722;5</div>
<div class="tk" style="left:184.6px">&#8722;4</div>
<div class="tk" style="left:262.5px">&#8722;3</div>
<div class="tk" style="left:340.3px">&#8722;2</div>
<div class="tk" style="left:418.2px">&#8722;1</div>
<div class="tk" style="left:496.1px">0</div>
<div class="tk" style="left:574px">1</div>
<div class="tk" style="left:651.9px">2</div>
<div class="tk" style="left:729.7px">3</div>
<div class="tk" style="left:807.6px">4</div>
<div class="tk" style="left:885.5px">5</div>
<svg style="position:absolute;left:9.3px;top:695.2px" width="56" height="56" viewBox="-28 -28 56 56">
<circle cx="0" cy="0" r="23.2" fill="none" stroke="#8f94d6" stroke-width="2.7" stroke-dasharray="1.0 0.8"/>
<circle cx="0" cy="0" r="20.4" fill="#08a2e2"/>
<path d="M-16.6 -12 A20.4 20.4 0 0 1 16.2 -12.6 C12 -9 8 -2 0.8 3.6 C-6 0 -11 -8 -16.6 -12Z" fill="#1b5fae"/>
<path d="M-16.9 -12.4 C-11 -8 -6 0 0.8 3.2 C8 -2 12 -9 16.6 -13 L19.3 -8.5 C15 -6.5 11 -1.5 6 3.2 L10 3.8 L4.5 4.6 C1 6.2 -3 7.8 -7.4 8.7 C-4 7 -2 6 -1 4.9 C-8 3 -13 -2 -20.2 -5.6 Z" fill="#fff"/>
<text x="-0.4" y="-6.9" font-family="Liberation Sans" font-weight="bold" font-size="7.4" fill="#fff" text-anchor="middle" textLength="17.3" lengthAdjust="spacingAndGlyphs">NOAA</text>
</svg>

</body></html>
